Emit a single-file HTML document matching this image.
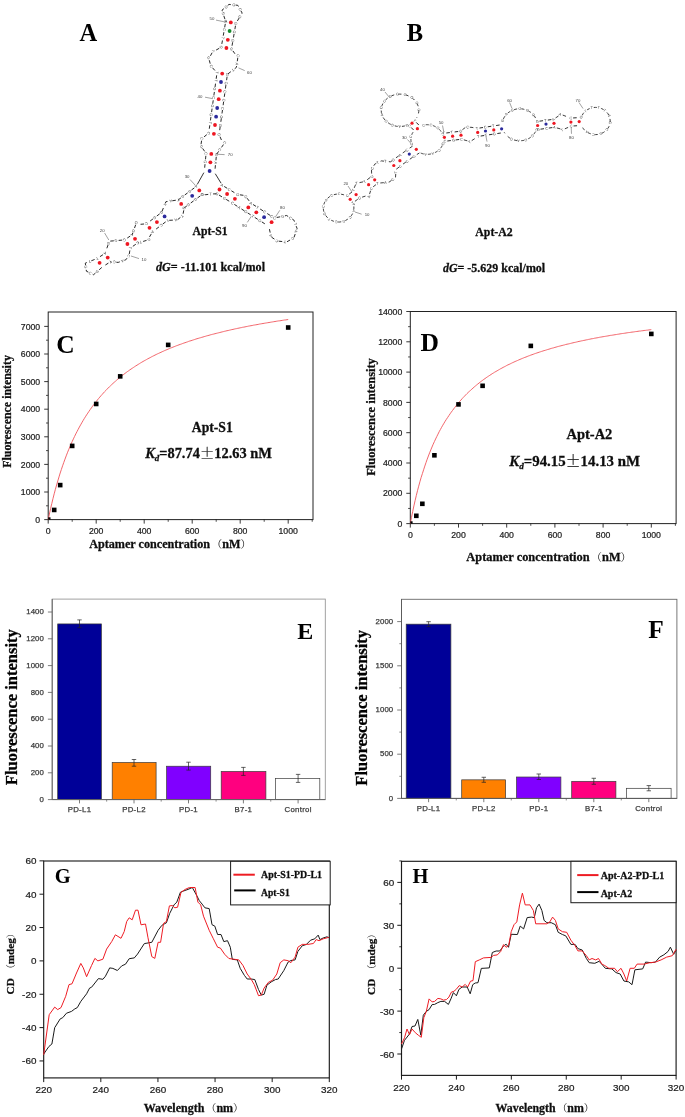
<!DOCTYPE html>
<html><head><meta charset="utf-8"><title>Figure</title>
<style>
html,body{margin:0;padding:0;background:#fff;}
svg{display:block;}
text{white-space:pre;}
text.b{stroke:#111;stroke-width:0.28px;}
</style></head><body>
<svg width="685" height="1117" viewBox="0 0 685 1117">
<defs>
<filter id="soft" x="-5%" y="-5%" width="110%" height="110%"><feGaussianBlur stdDeviation="0.35"/></filter>
<filter id="soft2" x="-5%" y="-5%" width="110%" height="110%"><feGaussianBlur stdDeviation="0.3"/></filter>
</defs>
<rect width="685" height="1117" fill="#ffffff"/>
<g filter="url(#soft)">
<path id="s1" d="M225.7 21.5 L221.3 47.1" fill="none" stroke="#1e1e1e" stroke-width="0.95" stroke-linejoin="round" stroke-dasharray="3.53 4.87" stroke-dashoffset="-2.44"/>
<text font-size="3.9" font-family="Liberation Sans, sans-serif" fill="#444" letter-spacing="5.67" dy="1.40"><textPath href="#s1" startOffset="-1.36">ACTC</textPath></text>
<path id="s2" d="M235.9 23.3 L231.5 48.9" fill="none" stroke="#1e1e1e" stroke-width="0.95" stroke-linejoin="round" stroke-dasharray="3.53 4.87" stroke-dashoffset="-2.44"/>
<text font-size="3.9" font-family="Liberation Sans, sans-serif" fill="#444" letter-spacing="5.67" dy="1.40"><textPath href="#s2" startOffset="-1.36">GGGG</textPath></text>
<path id="s3" d="M225.7 21.5 L222.0 10.2 L229.0 4.4 L237.8 5.3 L242.2 13.1 L235.9 23.3" fill="none" stroke="#1e1e1e" stroke-width="0.95" stroke-linejoin="round" stroke-dasharray="3.53 4.87" stroke-dashoffset="-2.44"/>
<text font-size="3.9" font-family="Liberation Sans, sans-serif" fill="#444" letter-spacing="5.67" dy="1.40"><textPath href="#s3" startOffset="-1.36">AGGGCGG</textPath></text>
<path id="s4" d="M217.0 72.9 L208.7 133.1" fill="none" stroke="#1e1e1e" stroke-width="0.95" stroke-linejoin="round" stroke-dasharray="3.53 4.87" stroke-dashoffset="-2.44"/>
<text font-size="3.9" font-family="Liberation Sans, sans-serif" fill="#444" letter-spacing="5.67" dy="1.40"><textPath href="#s4" startOffset="-1.36">TTGCGGTG</textPath></text>
<path id="s5" d="M227.4 74.3 L219.1 134.5" fill="none" stroke="#1e1e1e" stroke-width="0.95" stroke-linejoin="round" stroke-dasharray="3.53 4.87" stroke-dashoffset="-2.44"/>
<text font-size="3.9" font-family="Liberation Sans, sans-serif" fill="#444" letter-spacing="5.67" dy="1.40"><textPath href="#s5" startOffset="-1.36">GGCCCGGG</textPath></text>
<path id="s6" d="M221.3 47.1 L212.4 52.2 L208.9 58.7 L210.7 65.7 L217.0 72.9" fill="none" stroke="#1e1e1e" stroke-width="0.95" stroke-linejoin="round" stroke-dasharray="3.53 4.87" stroke-dashoffset="-2.44"/>
<text font-size="3.9" font-family="Liberation Sans, sans-serif" fill="#444" letter-spacing="5.67" dy="1.40"><textPath href="#s6" startOffset="-1.36">GTGCG</textPath></text>
<path id="s7" d="M231.5 48.9 L237.8 57.8 L236.4 67.4 L227.4 74.3" fill="none" stroke="#1e1e1e" stroke-width="0.95" stroke-linejoin="round" stroke-dasharray="3.53 4.87" stroke-dashoffset="-2.44"/>
<text font-size="3.9" font-family="Liberation Sans, sans-serif" fill="#444" letter-spacing="5.67" dy="1.40"><textPath href="#s7" startOffset="-1.36">GCAT</textPath></text>
<path id="s8" d="M206.1 153.4 L204.4 170.5" fill="none" stroke="#1e1e1e" stroke-width="0.95" stroke-linejoin="round" stroke-dasharray="3.53 4.87" stroke-dashoffset="-2.44"/>
<text font-size="3.9" font-family="Liberation Sans, sans-serif" fill="#444" letter-spacing="5.67" dy="1.40"><textPath href="#s8" startOffset="-1.36">CGG</textPath></text>
<path id="s9" d="M216.5 154.4 L214.8 171.5" fill="none" stroke="#1e1e1e" stroke-width="0.95" stroke-linejoin="round" stroke-dasharray="3.53 4.87" stroke-dashoffset="-2.44"/>
<text font-size="3.9" font-family="Liberation Sans, sans-serif" fill="#444" letter-spacing="5.67" dy="1.40"><textPath href="#s9" startOffset="-1.36">GAG</textPath></text>
<path id="s10" d="M208.7 133.1 L201.9 138.6 L200.8 145.8 L206.1 153.4" fill="none" stroke="#1e1e1e" stroke-width="0.95" stroke-linejoin="round" stroke-dasharray="3.53 4.87" stroke-dashoffset="-2.44"/>
<text font-size="3.9" font-family="Liberation Sans, sans-serif" fill="#444" letter-spacing="5.67" dy="1.40"><textPath href="#s10" startOffset="-1.36">CCGG</textPath></text>
<path id="s11" d="M219.1 134.5 L223.4 144.7 L216.5 154.4" fill="none" stroke="#1e1e1e" stroke-width="0.95" stroke-linejoin="round" stroke-dasharray="3.53 4.87" stroke-dashoffset="-2.44"/>
<text font-size="3.9" font-family="Liberation Sans, sans-serif" fill="#444" letter-spacing="5.67" dy="1.40"><textPath href="#s11" startOffset="-1.36">GCC</textPath></text>
<path id="s12" d="M196.3 186.4 L178.2 199.9" fill="none" stroke="#1e1e1e" stroke-width="0.95" stroke-linejoin="round" stroke-dasharray="3.53 4.87" stroke-dashoffset="-2.44"/>
<text font-size="3.9" font-family="Liberation Sans, sans-serif" fill="#444" letter-spacing="5.67" dy="1.40"><textPath href="#s12" startOffset="-1.36">AGG</textPath></text>
<path id="s13" d="M202.3 194.4 L184.2 207.9" fill="none" stroke="#1e1e1e" stroke-width="0.95" stroke-linejoin="round" stroke-dasharray="3.53 4.87" stroke-dashoffset="-2.44"/>
<text font-size="3.9" font-family="Liberation Sans, sans-serif" fill="#444" letter-spacing="5.67" dy="1.40"><textPath href="#s13" startOffset="-1.36">CGG</textPath></text>
<line x1="203.83" y1="172.69" x2="197.31" y2="184.39" stroke="#1e1e1e" stroke-width="0.9" />
<path id="s14" d="M161.6 212.4 L146.5 223.8" fill="none" stroke="#1e1e1e" stroke-width="0.95" stroke-linejoin="round" stroke-dasharray="3.53 4.87" stroke-dashoffset="-2.44"/>
<text font-size="3.9" font-family="Liberation Sans, sans-serif" fill="#444" letter-spacing="5.67" dy="1.40"><textPath href="#s14" startOffset="-1.36">GGC</textPath></text>
<path id="s15" d="M167.6 220.4 L152.5 231.8" fill="none" stroke="#1e1e1e" stroke-width="0.95" stroke-linejoin="round" stroke-dasharray="3.53 4.87" stroke-dashoffset="-2.44"/>
<text font-size="3.9" font-family="Liberation Sans, sans-serif" fill="#444" letter-spacing="5.67" dy="1.40"><textPath href="#s15" startOffset="-1.36">TCG</textPath></text>
<path id="s16" d="M178.2 199.9 L165.9 201.7 L161.6 212.4" fill="none" stroke="#1e1e1e" stroke-width="0.95" stroke-linejoin="round" stroke-dasharray="3.53 4.87" stroke-dashoffset="-2.44"/>
<text font-size="3.9" font-family="Liberation Sans, sans-serif" fill="#444" letter-spacing="5.67" dy="1.40"><textPath href="#s16" startOffset="-1.36">TAT</textPath></text>
<path id="s17" d="M184.2 207.9 L182.8 215.5 L177.3 219.9 L167.6 220.4" fill="none" stroke="#1e1e1e" stroke-width="0.95" stroke-linejoin="round" stroke-dasharray="3.53 4.87" stroke-dashoffset="-2.44"/>
<text font-size="3.9" font-family="Liberation Sans, sans-serif" fill="#444" letter-spacing="5.67" dy="1.40"><textPath href="#s17" startOffset="-1.36">GTA</textPath></text>
<path id="s18" d="M132.2 234.7 L124.6 239.9" fill="none" stroke="#1e1e1e" stroke-width="0.95" stroke-linejoin="round" stroke-dasharray="3.53 4.87" stroke-dashoffset="-2.44"/>
<text font-size="3.9" font-family="Liberation Sans, sans-serif" fill="#444" letter-spacing="5.67" dy="1.40"><textPath href="#s18" startOffset="-1.36">AC</textPath></text>
<path id="s19" d="M137.8 242.9 L130.2 248.1" fill="none" stroke="#1e1e1e" stroke-width="0.95" stroke-linejoin="round" stroke-dasharray="3.53 4.87" stroke-dashoffset="-2.44"/>
<text font-size="3.9" font-family="Liberation Sans, sans-serif" fill="#444" letter-spacing="5.67" dy="1.40"><textPath href="#s19" startOffset="-1.36">CC</textPath></text>
<path id="s20" d="M146.5 223.8 L135.7 224.7 L132.2 234.7" fill="none" stroke="#1e1e1e" stroke-width="0.95" stroke-linejoin="round" stroke-dasharray="3.53 4.87" stroke-dashoffset="-2.44"/>
<text font-size="3.9" font-family="Liberation Sans, sans-serif" fill="#444" letter-spacing="5.67" dy="1.40"><textPath href="#s20" startOffset="-1.36">CGG</textPath></text>
<path id="s21" d="M152.5 231.8 L147.7 240.1 L137.8 242.9" fill="none" stroke="#1e1e1e" stroke-width="0.95" stroke-linejoin="round" stroke-dasharray="3.53 4.87" stroke-dashoffset="-2.44"/>
<text font-size="3.9" font-family="Liberation Sans, sans-serif" fill="#444" letter-spacing="5.67" dy="1.40"><textPath href="#s21" startOffset="-1.36">AGT</textPath></text>
<path id="s22" d="M105.0 253.4 L96.9 258.6" fill="none" stroke="#1e1e1e" stroke-width="0.95" stroke-linejoin="round" stroke-dasharray="3.53 4.87" stroke-dashoffset="-2.44"/>
<text font-size="3.9" font-family="Liberation Sans, sans-serif" fill="#444" letter-spacing="5.67" dy="1.40"><textPath href="#s22" startOffset="-1.36">AC</textPath></text>
<path id="s23" d="M110.4 261.8 L102.3 267.0" fill="none" stroke="#1e1e1e" stroke-width="0.95" stroke-linejoin="round" stroke-dasharray="3.53 4.87" stroke-dashoffset="-2.44"/>
<text font-size="3.9" font-family="Liberation Sans, sans-serif" fill="#444" letter-spacing="5.67" dy="1.40"><textPath href="#s23" startOffset="-1.36">TA</textPath></text>
<path id="s24" d="M124.6 239.9 L109.4 241.2 L105.0 253.4" fill="none" stroke="#1e1e1e" stroke-width="0.95" stroke-linejoin="round" stroke-dasharray="3.53 4.87" stroke-dashoffset="-2.44"/>
<text font-size="3.9" font-family="Liberation Sans, sans-serif" fill="#444" letter-spacing="5.67" dy="1.40"><textPath href="#s24" startOffset="-1.36">GGGG</textPath></text>
<path id="s25" d="M130.2 248.1 L129.1 255.4 L125.8 259.8 L118.2 262.4 L110.4 261.8" fill="none" stroke="#1e1e1e" stroke-width="0.95" stroke-linejoin="round" stroke-dasharray="3.53 4.87" stroke-dashoffset="-2.44"/>
<text font-size="3.9" font-family="Liberation Sans, sans-serif" fill="#444" letter-spacing="5.67" dy="1.40"><textPath href="#s25" startOffset="-1.36">TCAC</textPath></text>
<path id="s26" d="M96.9 258.6 L85.3 263.1 L86.4 271.2 L93.6 274.7 L102.3 267.0" fill="none" stroke="#1e1e1e" stroke-width="0.95" stroke-linejoin="round" stroke-dasharray="3.53 4.87" stroke-dashoffset="-2.44"/>
<text font-size="3.9" font-family="Liberation Sans, sans-serif" fill="#444" letter-spacing="5.67" dy="1.40"><textPath href="#s26" startOffset="-1.36">TTGCG</textPath></text>
<path id="s27" d="M216.9 193.8 L232.3 203.1" fill="none" stroke="#1e1e1e" stroke-width="0.95" stroke-linejoin="round" stroke-dasharray="3.53 4.87" stroke-dashoffset="-2.44"/>
<text font-size="3.9" font-family="Liberation Sans, sans-serif" fill="#444" letter-spacing="5.67" dy="1.40"><textPath href="#s27" startOffset="-1.36">GGA</textPath></text>
<path id="s28" d="M222.1 185.2 L237.5 194.5" fill="none" stroke="#1e1e1e" stroke-width="0.95" stroke-linejoin="round" stroke-dasharray="3.53 4.87" stroke-dashoffset="-2.44"/>
<text font-size="3.9" font-family="Liberation Sans, sans-serif" fill="#444" letter-spacing="5.67" dy="1.40"><textPath href="#s28" startOffset="-1.36">ACA</textPath></text>
<line x1="215.27" y1="173.71" x2="221.08" y2="183.22" stroke="#1e1e1e" stroke-width="0.9" />
<path id="s29" d="M202.3 194.4 L205.8 194.7 L211.3 194.0 L216.9 193.8" fill="none" stroke="#1e1e1e" stroke-width="0.95" stroke-linejoin="round" stroke-dasharray="3.53 4.87" stroke-dashoffset="-2.44"/>
<text font-size="3.9" font-family="Liberation Sans, sans-serif" fill="#444" letter-spacing="5.67" dy="1.40"><textPath href="#s29" startOffset="-1.36">GT</textPath></text>
<path id="s30" d="M245.6 211.6 L268.9 226.4" fill="none" stroke="#1e1e1e" stroke-width="0.95" stroke-linejoin="round" stroke-dasharray="3.53 4.87" stroke-dashoffset="-2.44"/>
<text font-size="3.9" font-family="Liberation Sans, sans-serif" fill="#444" letter-spacing="5.67" dy="1.40"><textPath href="#s30" startOffset="-1.36">GTGG</textPath></text>
<path id="s31" d="M251.0 203.2 L274.3 218.0" fill="none" stroke="#1e1e1e" stroke-width="0.95" stroke-linejoin="round" stroke-dasharray="3.53 4.87" stroke-dashoffset="-2.44"/>
<text font-size="3.9" font-family="Liberation Sans, sans-serif" fill="#444" letter-spacing="5.67" dy="1.40"><textPath href="#s31" startOffset="-1.36">ATCC</textPath></text>
<path id="s32" d="M237.5 194.5 L244.9 195.5 L251.0 203.2" fill="none" stroke="#1e1e1e" stroke-width="0.95" stroke-linejoin="round" stroke-dasharray="3.53 4.87" stroke-dashoffset="-2.44"/>
<text font-size="3.9" font-family="Liberation Sans, sans-serif" fill="#444" letter-spacing="5.67" dy="1.40"><textPath href="#s32" startOffset="-1.36">GGC</textPath></text>
<path id="s33" d="M232.3 203.1 L245.6 211.6" fill="none" stroke="#1e1e1e" stroke-width="0.95" stroke-linejoin="round" stroke-dasharray="3.53 4.87" stroke-dashoffset="-2.44"/>
<text font-size="3.9" font-family="Liberation Sans, sans-serif" fill="#444" letter-spacing="5.67" dy="1.40"><textPath href="#s33" startOffset="-1.36">CA</textPath></text>
<path id="s34" d="M274.3 218.0 L286.6 215.5 L293.9 220.1 L297.1 228.5 L293.9 237.8 L286.6 242.0 L277.2 241.0 L271.0 236.8 L268.9 226.4" fill="none" stroke="#1e1e1e" stroke-width="0.95" stroke-linejoin="round" stroke-dasharray="3.53 4.87" stroke-dashoffset="-2.44"/>
<text font-size="3.9" font-family="Liberation Sans, sans-serif" fill="#444" letter-spacing="5.67" dy="1.40"><textPath href="#s34" startOffset="-1.36">CGCTACTCAG</textPath></text>
<circle cx="230.8" cy="22.4" r="1.9" fill="#ee1620"/>
<circle cx="229.6" cy="31.0" r="1.9" fill="#138a2c"/>
<circle cx="227.8" cy="39.8" r="1.9" fill="#ee1620"/>
<circle cx="226.4" cy="48.0" r="1.9" fill="#ee1620"/>
<circle cx="222.2" cy="73.6" r="1.9" fill="#ee1620"/>
<circle cx="221.0" cy="82.0" r="1.9" fill="#2c2a9c"/>
<circle cx="219.9" cy="90.7" r="1.9" fill="#ee1620"/>
<circle cx="218.7" cy="99.2" r="1.9" fill="#ee1620"/>
<circle cx="217.2" cy="108.0" r="1.9" fill="#2c2a9c"/>
<circle cx="216.1" cy="116.7" r="1.9" fill="#2c2a9c"/>
<circle cx="215.0" cy="125.0" r="1.9" fill="#ee1620"/>
<circle cx="213.9" cy="133.8" r="1.9" fill="#ee1620"/>
<circle cx="211.3" cy="153.9" r="1.9" fill="#ee1620"/>
<circle cx="210.4" cy="162.3" r="1.9" fill="#ee1620"/>
<circle cx="209.6" cy="171.0" r="1.9" fill="#2c2a9c"/>
<circle cx="199.3" cy="190.4" r="1.9" fill="#ee1620"/>
<circle cx="192.2" cy="195.8" r="1.9" fill="#2c2a9c"/>
<circle cx="181.2" cy="203.9" r="1.9" fill="#ee1620"/>
<circle cx="164.6" cy="216.4" r="1.9" fill="#2c2a9c"/>
<circle cx="156.9" cy="222.1" r="1.9" fill="#ee1620"/>
<circle cx="149.5" cy="227.8" r="1.9" fill="#ee1620"/>
<circle cx="135.0" cy="238.8" r="1.9" fill="#ee1620"/>
<circle cx="127.4" cy="244.0" r="1.9" fill="#ee1620"/>
<circle cx="107.7" cy="257.6" r="1.9" fill="#ee1620"/>
<circle cx="99.6" cy="262.8" r="1.9" fill="#ee1620"/>
<circle cx="219.5" cy="189.5" r="1.9" fill="#ee1620"/>
<circle cx="227.1" cy="194.0" r="1.9" fill="#ee1620"/>
<circle cx="234.9" cy="198.8" r="1.9" fill="#ee1620"/>
<circle cx="248.3" cy="207.4" r="1.9" fill="#ee1620"/>
<circle cx="256.3" cy="212.3" r="1.9" fill="#ee1620"/>
<circle cx="264.1" cy="217.2" r="1.9" fill="#2c2a9c"/>
<circle cx="271.6" cy="222.2" r="1.9" fill="#ee1620"/>
<text x="212.00" y="20.20" font-size="4.3" text-anchor="middle" font-weight="normal" font-family="Liberation Sans, sans-serif" fill="#3c3c3c"  >50</text>
<line x1="216.00" y1="20.10" x2="224.70" y2="21.90" stroke="#555" stroke-width="0.55" />
<text x="249.50" y="73.70" font-size="4.3" text-anchor="middle" font-weight="normal" font-family="Liberation Sans, sans-serif" fill="#3c3c3c"  >60</text>
<line x1="238.50" y1="67.90" x2="244.70" y2="70.60" stroke="#555" stroke-width="0.55" />
<text x="200.00" y="97.90" font-size="4.3" text-anchor="middle" font-weight="normal" font-family="Liberation Sans, sans-serif" fill="#3c3c3c"  >40</text>
<line x1="205.00" y1="97.20" x2="212.50" y2="98.60" stroke="#555" stroke-width="0.55" />
<text x="230.20" y="156.10" font-size="4.3" text-anchor="middle" font-weight="normal" font-family="Liberation Sans, sans-serif" fill="#3c3c3c"  >70</text>
<line x1="217.50" y1="154.30" x2="224.60" y2="154.60" stroke="#555" stroke-width="0.55" />
<text x="187.10" y="178.10" font-size="4.3" text-anchor="middle" font-weight="normal" font-family="Liberation Sans, sans-serif" fill="#3c3c3c"  >30</text>
<line x1="190.00" y1="179.50" x2="195.60" y2="185.60" stroke="#555" stroke-width="0.55" />
<text x="102.20" y="231.70" font-size="4.3" text-anchor="middle" font-weight="normal" font-family="Liberation Sans, sans-serif" fill="#3c3c3c"  >20</text>
<line x1="104.60" y1="233.00" x2="108.80" y2="240.00" stroke="#555" stroke-width="0.55" />
<text x="144.00" y="261.30" font-size="4.3" text-anchor="middle" font-weight="normal" font-family="Liberation Sans, sans-serif" fill="#3c3c3c"  >10</text>
<line x1="131.00" y1="256.00" x2="139.00" y2="258.60" stroke="#555" stroke-width="0.55" />
<text x="282.50" y="209.10" font-size="4.3" text-anchor="middle" font-weight="normal" font-family="Liberation Sans, sans-serif" fill="#3c3c3c"  >80</text>
<line x1="279.80" y1="210.30" x2="275.40" y2="217.00" stroke="#555" stroke-width="0.55" />
<text x="244.50" y="227.20" font-size="4.3" text-anchor="middle" font-weight="normal" font-family="Liberation Sans, sans-serif" fill="#3c3c3c"  >90</text>
<line x1="251.30" y1="216.30" x2="247.30" y2="222.40" stroke="#555" stroke-width="0.55" />
<path id="s35" d="M353.4 204.4 L353.8 206.2 L353.9 208.1 L353.7 210.0 L353.3 211.9 L352.6 213.6 L351.6 215.3 L350.4 216.9 L349.0 218.2 L347.4 219.4 L345.7 220.4 L343.8 221.2 L341.8 221.7 L339.7 222.0 L337.7 222.0 L335.6 221.7 L333.6 221.2 L331.7 220.5 L329.9 219.5 L328.3 218.4 L326.9 217.0 L325.7 215.5 L324.7 213.8 L323.9 212.0 L323.5 210.2 L323.3 208.3 L323.4 206.4 L323.8 204.6 L324.4 202.8 L325.3 201.1 L326.5 199.5 L327.8 198.1 L329.4 196.8 L331.1 195.8 L333.0 195.0 L335.0 194.4 L337.0 194.1 L339.1 194.0 L341.1 194.2 L343.1 194.6 L345.1 195.3" fill="none" stroke="#1e1e1e" stroke-width="0.85" stroke-linejoin="round" stroke-dasharray="3.07 4.23" stroke-dashoffset="-2.12"/>
<text font-size="3.7" font-family="Liberation Sans, sans-serif" fill="#444" letter-spacing="4.71" dy="1.33"><textPath href="#s35" startOffset="-1.29">TACGGTGCACC</textPath></text>
<path id="s36" d="M347.2 195.6 L352.8 191.4 L356.1 183.3 L364.9 181.5 L371.7 176.3 L371.5 169.7 L374.7 164.2 L381.3 160.9 L390.6 161.8 L397.1 157.0 L406.5 150.3 L413.3 145.6" fill="none" stroke="#1e1e1e" stroke-width="0.85" stroke-linejoin="round" stroke-dasharray="3.53 4.87" stroke-dashoffset="-2.44"/>
<text font-size="3.9" font-family="Liberation Sans, sans-serif" fill="#444" letter-spacing="5.67" dy="1.40"><textPath href="#s36" startOffset="-1.36">CTTTGCTTGAC</textPath></text>
<path id="s37" d="M353.0 202.8 L359.4 198.0 L369.3 194.9 L371.4 188.2 L377.8 183.2 L389.0 182.2 L395.5 177.4 L396.0 169.4 L402.9 164.2 L412.1 157.6 L419.3 153.0" fill="none" stroke="#1e1e1e" stroke-width="0.85" stroke-linejoin="round" stroke-dasharray="3.53 4.87" stroke-dashoffset="-2.44"/>
<text font-size="3.9" font-family="Liberation Sans, sans-serif" fill="#444" letter-spacing="5.67" dy="1.40"><textPath href="#s37" startOffset="-1.36">TGACTACTCCG</textPath></text>
<path id="s38" d="M411.7 144.1 L411.6 143.7 L411.5 143.3 L411.4 143.0 L411.3 142.6 L411.2 142.2 L411.1 141.8 L411.0 141.4 L411.0 141.0 L411.0 140.7 L410.9 140.3 L410.9 139.9 L410.9 139.5 L410.9 139.1 L410.9 138.7 L411.0 138.3 L411.0 138.0 L411.0 137.6 L411.1 137.2 L411.2 136.8 L411.3 136.4 L411.4 136.0 L411.5 135.7 L411.6 135.3 L411.7 134.9 L411.8 134.6 L412.0 134.2 L412.1 133.8 L412.3 133.5 L412.5 133.1 L412.7 132.8 L412.9 132.4 L413.1 132.1 L413.3 131.8 L413.5 131.4 L413.8 131.1 L414.0 130.8 L414.3 130.5 L414.6 130.2 L414.8 129.9 L415.1 129.6" fill="none" stroke="#1e1e1e" stroke-width="0.85" stroke-linejoin="round" stroke-dasharray="3.07 4.23" stroke-dashoffset="-2.12"/>
<text font-size="3.7" font-family="Liberation Sans, sans-serif" fill="#444" letter-spacing="4.71" dy="1.33"><textPath href="#s38" startOffset="-1.29">CCC</textPath></text>
<path id="s39" d="M423.6 125.1 L424.2 125.0 L424.9 124.9 L425.5 124.8 L426.1 124.7 L426.8 124.7 L427.4 124.7 L428.0 124.7 L428.7 124.8 L429.3 124.8 L429.9 124.9 L430.6 125.0 L431.2 125.1 L431.8 125.3 L432.4 125.4 L433.0 125.6 L433.6 125.8 L434.2 126.1 L434.8 126.3 L435.3 126.6 L435.9 126.9 L436.4 127.2 L436.9 127.5 L437.4 127.9 L437.9 128.2 L438.4 128.6 L438.9 129.0 L439.3 129.4 L439.7 129.8 L440.1 130.3 L440.5 130.7 L440.9 131.2 L441.2 131.7 L441.6 132.2 L441.9 132.7 L442.1 133.2 L442.4 133.7 L442.6 134.3 L442.9 134.8 L443.0 135.4 L443.2 135.9" fill="none" stroke="#1e1e1e" stroke-width="0.85" stroke-linejoin="round" stroke-dasharray="3.07 4.23" stroke-dashoffset="-2.12"/>
<text font-size="3.7" font-family="Liberation Sans, sans-serif" fill="#444" letter-spacing="4.71" dy="1.33"><textPath href="#s39" startOffset="-1.29">CCGT</textPath></text>
<path id="s40" d="M443.1 143.6 L442.8 144.3 L442.6 144.9 L442.2 145.6 L441.9 146.2 L441.5 146.9 L441.1 147.5 L440.7 148.1 L440.2 148.7 L439.7 149.2 L439.1 149.7 L438.6 150.2 L438.0 150.7 L437.4 151.2 L436.7 151.6 L436.1 152.0 L435.4 152.4 L434.7 152.7 L434.0 153.0 L433.3 153.3 L432.5 153.5 L431.7 153.7 L431.0 153.9 L430.2 154.1 L429.4 154.2 L428.6 154.3 L427.8 154.3 L427.0 154.3 L426.2 154.3 L425.5 154.2 L424.7 154.1 L423.9 154.0 L423.1 153.8 L422.3 153.6 L421.6 153.4 L420.9 153.1 L420.1 152.8 L419.4 152.5 L418.7 152.1 L418.1 151.7 L417.4 151.3" fill="none" stroke="#1e1e1e" stroke-width="0.85" stroke-linejoin="round" stroke-dasharray="3.07 4.23" stroke-dashoffset="-2.12"/>
<text font-size="3.7" font-family="Liberation Sans, sans-serif" fill="#444" letter-spacing="4.71" dy="1.33"><textPath href="#s40" startOffset="-1.29">GCAAG</textPath></text>
<path id="s41" d="M409.4 125.7 L414.8 131.2" fill="none" stroke="#1e1e1e" stroke-width="0.95" stroke-linejoin="round" stroke-dasharray="3.53 4.87" stroke-dashoffset="-2.44"/>
<text font-size="3.9" font-family="Liberation Sans, sans-serif" fill="#444" letter-spacing="5.67" dy="1.40"><textPath href="#s41" startOffset="-1.36">C</textPath></text>
<path id="s42" d="M414.6 120.7 L420.0 126.2" fill="none" stroke="#1e1e1e" stroke-width="0.95" stroke-linejoin="round" stroke-dasharray="3.53 4.87" stroke-dashoffset="-2.44"/>
<text font-size="3.9" font-family="Liberation Sans, sans-serif" fill="#444" letter-spacing="5.67" dy="1.40"><textPath href="#s42" startOffset="-1.36">T</textPath></text>
<path id="s43" d="M407.0 125.3 L404.5 126.0 L402.0 126.4 L399.3 126.5 L396.7 126.3 L394.2 125.7 L391.8 124.9 L389.5 123.7 L387.4 122.3 L385.6 120.7 L384.1 118.9 L382.8 116.9 L381.9 114.8 L381.4 112.6 L381.2 110.3 L381.4 108.0 L381.9 105.8 L382.8 103.7 L384.1 101.7 L385.6 99.9 L387.4 98.3 L389.5 96.9 L391.8 95.7 L394.2 94.9 L396.7 94.3 L399.3 94.1 L402.0 94.2 L404.5 94.6 L407.0 95.3 L409.4 96.3 L411.6 97.5 L413.5 99.0 L415.2 100.8 L416.6 102.7 L417.7 104.8 L418.4 106.9 L418.8 109.2 L418.8 111.4 L418.4 113.7 L417.7 115.8 L416.6 117.9" fill="none" stroke="#1e1e1e" stroke-width="0.85" stroke-linejoin="round" stroke-dasharray="3.07 4.23" stroke-dashoffset="-2.12"/>
<text font-size="3.7" font-family="Liberation Sans, sans-serif" fill="#444" letter-spacing="4.71" dy="1.33"><textPath href="#s43" startOffset="-1.29">GAGGACCGGCCCGT</textPath></text>
<path id="s44" d="M444.9 141.3 L461.5 139.2" fill="none" stroke="#1e1e1e" stroke-width="0.95" stroke-linejoin="round" stroke-dasharray="3.53 4.87" stroke-dashoffset="-2.44"/>
<text font-size="3.9" font-family="Liberation Sans, sans-serif" fill="#444" letter-spacing="5.67" dy="1.40"><textPath href="#s44" startOffset="-1.36">CG</textPath></text>
<path id="s45" d="M443.9 133.3 L460.5 131.2" fill="none" stroke="#1e1e1e" stroke-width="0.95" stroke-linejoin="round" stroke-dasharray="3.53 4.87" stroke-dashoffset="-2.44"/>
<text font-size="3.9" font-family="Liberation Sans, sans-serif" fill="#444" letter-spacing="5.67" dy="1.40"><textPath href="#s45" startOffset="-1.36">TT</textPath></text>
<path id="s46" d="M478.3 136.4 L502.2 132.8" fill="none" stroke="#1e1e1e" stroke-width="0.95" stroke-linejoin="round" stroke-dasharray="3.53 4.87" stroke-dashoffset="-2.44"/>
<text font-size="3.9" font-family="Liberation Sans, sans-serif" fill="#444" letter-spacing="5.67" dy="1.40"><textPath href="#s46" startOffset="-1.36">TTG</textPath></text>
<path id="s47" d="M477.1 128.4 L501.0 124.8" fill="none" stroke="#1e1e1e" stroke-width="0.95" stroke-linejoin="round" stroke-dasharray="3.53 4.87" stroke-dashoffset="-2.44"/>
<text font-size="3.9" font-family="Liberation Sans, sans-serif" fill="#444" letter-spacing="5.67" dy="1.40"><textPath href="#s47" startOffset="-1.36">TCT</textPath></text>
<path id="s48" d="M460.5 131.2 L466.1 126.9 L472.0 127.4 L477.1 128.4" fill="none" stroke="#1e1e1e" stroke-width="0.85" stroke-linejoin="round" stroke-dasharray="3.53 4.87" stroke-dashoffset="-2.44"/>
<text font-size="3.9" font-family="Liberation Sans, sans-serif" fill="#444" letter-spacing="5.67" dy="1.40"><textPath href="#s48" startOffset="-1.36">GCG</textPath></text>
<path id="s49" d="M461.5 139.2 L470.2 141.6 L478.3 136.4" fill="none" stroke="#1e1e1e" stroke-width="0.85" stroke-linejoin="round" stroke-dasharray="3.53 4.87" stroke-dashoffset="-2.44"/>
<text font-size="3.9" font-family="Liberation Sans, sans-serif" fill="#444" letter-spacing="5.67" dy="1.40"><textPath href="#s49" startOffset="-1.36">CTC</textPath></text>
<path id="s50" d="M502.7 120.9 L503.0 119.9 L503.4 118.9 L503.9 117.9 L504.4 117.0 L505.0 116.1 L505.7 115.2 L506.4 114.4 L507.2 113.6 L508.0 112.9 L508.9 112.2 L509.9 111.6 L510.8 111.0 L511.9 110.5 L512.9 110.1 L514.0 109.7 L515.1 109.4 L516.2 109.1 L517.4 108.9 L518.5 108.8 L519.7 108.8 L520.9 108.8 L522.0 108.9 L523.2 109.1 L524.3 109.4 L525.4 109.7 L526.5 110.1 L527.5 110.5 L528.6 111.0 L529.5 111.6 L530.5 112.2 L531.4 112.9 L532.2 113.6 L533.0 114.4 L533.7 115.2 L534.4 116.1 L535.0 117.0 L535.5 117.9 L536.0 118.9 L536.4 119.9 L536.7 120.9 L536.9 121.4" fill="none" stroke="#1e1e1e" stroke-width="0.85" stroke-linejoin="round" stroke-dasharray="3.07 4.23" stroke-dashoffset="-2.12"/>
<text font-size="3.7" font-family="Liberation Sans, sans-serif" fill="#444" letter-spacing="4.71" dy="1.33"><textPath href="#s50" startOffset="-1.29">GAGGGGG</textPath></text>
<path id="s51" d="M536.3 129.7 L536.0 130.6 L535.6 131.5 L535.1 132.3 L534.6 133.1 L534.1 133.9 L533.5 134.7 L532.8 135.4 L532.1 136.1 L531.4 136.7 L530.6 137.3 L529.8 137.9 L528.9 138.4 L528.0 138.9 L527.1 139.3 L526.2 139.7 L525.2 140.0 L524.2 140.3 L523.2 140.5 L522.2 140.6 L521.2 140.7 L520.2 140.8 L519.2 140.8 L518.2 140.7 L517.1 140.6 L516.1 140.5 L515.1 140.2 L514.2 140.0 L513.2 139.7 L512.3 139.3 L511.3 138.9 L510.5 138.4 L509.6 137.9 L508.8 137.3 L508.0 136.7 L507.3 136.1 L506.6 135.4 L505.9 134.7 L505.3 133.9 L504.8 133.1 L504.2 132.3" fill="none" stroke="#1e1e1e" stroke-width="0.85" stroke-linejoin="round" stroke-dasharray="3.07 4.23" stroke-dashoffset="-2.12"/>
<text font-size="3.7" font-family="Liberation Sans, sans-serif" fill="#444" letter-spacing="4.71" dy="1.33"><textPath href="#s51" startOffset="-1.29">CGGAGG</textPath></text>
<path id="s52" d="M538.1 129.5 L554.5 127.3" fill="none" stroke="#1e1e1e" stroke-width="0.95" stroke-linejoin="round" stroke-dasharray="3.53 4.87" stroke-dashoffset="-2.44"/>
<text font-size="3.9" font-family="Liberation Sans, sans-serif" fill="#444" letter-spacing="5.67" dy="1.40"><textPath href="#s52" startOffset="-1.36">GC</textPath></text>
<path id="s53" d="M537.1 121.5 L553.5 119.3" fill="none" stroke="#1e1e1e" stroke-width="0.95" stroke-linejoin="round" stroke-dasharray="3.53 4.87" stroke-dashoffset="-2.44"/>
<text font-size="3.9" font-family="Liberation Sans, sans-serif" fill="#444" letter-spacing="5.67" dy="1.40"><textPath href="#s53" startOffset="-1.36">GT</textPath></text>
<path id="s54" d="M571.1 126.1 L579.4 125.6" fill="none" stroke="#1e1e1e" stroke-width="0.95" stroke-linejoin="round" stroke-dasharray="3.53 4.87" stroke-dashoffset="-2.44"/>
<text font-size="3.9" font-family="Liberation Sans, sans-serif" fill="#444" letter-spacing="5.67" dy="1.40"><textPath href="#s54" startOffset="-1.36">C</textPath></text>
<path id="s55" d="M570.7 118.1 L579.0 117.6" fill="none" stroke="#1e1e1e" stroke-width="0.95" stroke-linejoin="round" stroke-dasharray="3.53 4.87" stroke-dashoffset="-2.44"/>
<text font-size="3.9" font-family="Liberation Sans, sans-serif" fill="#444" letter-spacing="5.67" dy="1.40"><textPath href="#s55" startOffset="-1.36">C</textPath></text>
<path id="s56" d="M553.5 119.3 L560.9 114.4 L570.7 118.1" fill="none" stroke="#1e1e1e" stroke-width="0.85" stroke-linejoin="round" stroke-dasharray="3.53 4.87" stroke-dashoffset="-2.44"/>
<text font-size="3.9" font-family="Liberation Sans, sans-serif" fill="#444" letter-spacing="5.67" dy="1.40"><textPath href="#s56" startOffset="-1.36">AAG</textPath></text>
<path id="s57" d="M554.5 127.3 L563.1 129.6 L571.1 126.1" fill="none" stroke="#1e1e1e" stroke-width="0.85" stroke-linejoin="round" stroke-dasharray="3.53 4.87" stroke-dashoffset="-2.44"/>
<text font-size="3.9" font-family="Liberation Sans, sans-serif" fill="#444" letter-spacing="5.67" dy="1.40"><textPath href="#s57" startOffset="-1.36">ATG</textPath></text>
<path id="s58" d="M581.4 117.3 L582.1 115.4 L583.1 113.7 L584.3 112.1 L585.8 110.8 L587.5 109.6 L589.3 108.7 L591.3 108.0 L593.4 107.5 L595.4 107.4 L597.5 107.5 L599.6 107.9 L601.6 108.6 L603.4 109.5 L605.1 110.7 L606.6 112.1 L607.9 113.6 L608.9 115.3 L609.6 117.2 L610.0 119.1 L610.2 121.0 L610.0 122.9 L609.6 124.8 L608.9 126.7 L607.9 128.4 L606.6 129.9 L605.1 131.3 L603.4 132.5 L601.6 133.4 L599.6 134.1 L597.5 134.5 L595.4 134.6 L593.4 134.5 L591.3 134.0 L589.3 133.3 L587.5 132.4 L585.8 131.2 L584.3 129.9 L583.1 128.3 L582.1 126.6 L581.4 124.7" fill="none" stroke="#1e1e1e" stroke-width="0.85" stroke-linejoin="round" stroke-dasharray="3.07 4.23" stroke-dashoffset="-2.12"/>
<text font-size="3.7" font-family="Liberation Sans, sans-serif" fill="#444" letter-spacing="4.71" dy="1.33"><textPath href="#s58" startOffset="-1.29">GTTTTAGCGCAC</textPath></text>
<circle cx="350.2" cy="199.3" r="1.6" fill="#ee1620"/>
<circle cx="356.1" cy="194.6" r="1.6" fill="#ee1620"/>
<circle cx="368.6" cy="184.7" r="1.6" fill="#ee1620"/>
<circle cx="374.7" cy="179.8" r="1.6" fill="#ee1620"/>
<circle cx="393.8" cy="165.5" r="1.6" fill="#ee1620"/>
<circle cx="399.9" cy="160.7" r="1.6" fill="#ee1620"/>
<circle cx="409.3" cy="154.1" r="1.6" fill="#2c2a9c"/>
<circle cx="416.3" cy="149.3" r="1.6" fill="#ee1620"/>
<circle cx="412.0" cy="123.2" r="1.6" fill="#ee1620"/>
<circle cx="417.4" cy="128.7" r="1.6" fill="#ee1620"/>
<circle cx="444.4" cy="137.3" r="1.6" fill="#ee1620"/>
<circle cx="452.6" cy="136.2" r="1.6" fill="#ee1620"/>
<circle cx="461.0" cy="135.2" r="1.6" fill="#ee1620"/>
<circle cx="477.7" cy="132.4" r="1.6" fill="#ee1620"/>
<circle cx="485.5" cy="131.0" r="1.6" fill="#2c2a9c"/>
<circle cx="493.8" cy="129.9" r="1.6" fill="#ee1620"/>
<circle cx="501.6" cy="128.8" r="1.6" fill="#2c2a9c"/>
<circle cx="537.6" cy="125.5" r="1.6" fill="#ee1620"/>
<circle cx="546.0" cy="124.1" r="1.6" fill="#2c2a9c"/>
<circle cx="554.0" cy="123.3" r="1.6" fill="#ee1620"/>
<circle cx="570.9" cy="122.1" r="1.6" fill="#ee1620"/>
<circle cx="579.2" cy="121.6" r="1.6" fill="#ee1620"/>
<text x="382.40" y="91.20" font-size="4.3" text-anchor="middle" font-weight="normal" font-family="Liberation Sans, sans-serif" fill="#3c3c3c"  >40</text>
<line x1="385.00" y1="92.00" x2="389.50" y2="97.50" stroke="#555" stroke-width="0.55" />
<text x="404.30" y="139.40" font-size="4.3" text-anchor="middle" font-weight="normal" font-family="Liberation Sans, sans-serif" fill="#3c3c3c"  >30</text>
<line x1="407.50" y1="139.50" x2="411.00" y2="143.50" stroke="#555" stroke-width="0.55" />
<text x="441.10" y="124.10" font-size="4.3" text-anchor="middle" font-weight="normal" font-family="Liberation Sans, sans-serif" fill="#3c3c3c"  >50</text>
<line x1="442.50" y1="125.50" x2="443.80" y2="132.00" stroke="#555" stroke-width="0.55" />
<text x="345.80" y="184.80" font-size="4.3" text-anchor="middle" font-weight="normal" font-family="Liberation Sans, sans-serif" fill="#3c3c3c"  >20</text>
<line x1="348.00" y1="186.00" x2="352.00" y2="192.00" stroke="#555" stroke-width="0.55" />
<text x="367.10" y="216.10" font-size="4.3" text-anchor="middle" font-weight="normal" font-family="Liberation Sans, sans-serif" fill="#3c3c3c"  >10</text>
<line x1="355.00" y1="212.00" x2="361.60" y2="214.20" stroke="#555" stroke-width="0.55" />
<text x="509.60" y="101.50" font-size="4.3" text-anchor="middle" font-weight="normal" font-family="Liberation Sans, sans-serif" fill="#3c3c3c"  >60</text>
<line x1="509.60" y1="102.50" x2="512.00" y2="108.50" stroke="#555" stroke-width="0.55" />
<text x="577.90" y="101.50" font-size="4.3" text-anchor="middle" font-weight="normal" font-family="Liberation Sans, sans-serif" fill="#3c3c3c"  >70</text>
<line x1="579.00" y1="102.50" x2="583.00" y2="108.50" stroke="#555" stroke-width="0.55" />
<text x="571.50" y="138.90" font-size="4.3" text-anchor="middle" font-weight="normal" font-family="Liberation Sans, sans-serif" fill="#3c3c3c"  >80</text>
<line x1="571.20" y1="127.00" x2="571.50" y2="133.80" stroke="#555" stroke-width="0.55" />
<text x="487.40" y="146.70" font-size="4.3" text-anchor="middle" font-weight="normal" font-family="Liberation Sans, sans-serif" fill="#3c3c3c"  >90</text>
<line x1="485.80" y1="135.50" x2="487.00" y2="141.60" stroke="#555" stroke-width="0.55" />
</g>
<g filter="url(#soft2)">
<text x="79.60" y="41.20" font-size="24.5" text-anchor="start" font-weight="bold" font-family="Liberation Serif, Noto Serif CJK SC, serif" fill="#000"  >A</text>
<text x="406.70" y="40.60" font-size="24.5" text-anchor="start" font-weight="bold" font-family="Liberation Serif, Noto Serif CJK SC, serif" fill="#000"  >B</text>
<text x="210.00" y="235.10" font-size="11.7" text-anchor="middle" font-weight="bold" font-family="Liberation Serif, Noto Serif CJK SC, serif" fill="#111" class="b" textLength="35" lengthAdjust="spacingAndGlyphs">Apt-S1</text>
<text x="494.00" y="235.60" font-size="11.8" text-anchor="middle" font-weight="bold" font-family="Liberation Serif, Noto Serif CJK SC, serif" fill="#111" class="b" textLength="37.4" lengthAdjust="spacingAndGlyphs">Apt-A2</text>
<text x="156" y="271.3" font-size="12" font-weight="bold" class="b" font-family="Liberation Serif, Noto Serif CJK SC, serif" fill="#111" textLength="109" lengthAdjust="spacingAndGlyphs"><tspan font-style="italic">dG</tspan>= -11.101 kcal/mol</text>
<text x="442.9" y="272" font-size="12" font-weight="bold" class="b" font-family="Liberation Serif, Noto Serif CJK SC, serif" fill="#111" textLength="102.3" lengthAdjust="spacingAndGlyphs"><tspan font-style="italic">dG</tspan>= -5.629 kcal/mol</text>
</g>
<g filter="url(#soft2)">
<rect x="48.20" y="312.00" width="264.80" height="207.60" fill="none" stroke="#222" stroke-width="1" />
<line x1="44.20" y1="519.60" x2="48.20" y2="519.60" stroke="#222" stroke-width="0.9" />
<text x="40.20" y="522.70" font-size="8.7" text-anchor="end" font-weight="normal" font-family="Liberation Sans, sans-serif" fill="#222"  stroke="#222" stroke-width="0.22">0</text>
<line x1="44.20" y1="492.00" x2="48.20" y2="492.00" stroke="#222" stroke-width="0.9" />
<text x="40.20" y="495.10" font-size="8.7" text-anchor="end" font-weight="normal" font-family="Liberation Sans, sans-serif" fill="#222"  stroke="#222" stroke-width="0.22">1000</text>
<line x1="44.20" y1="464.40" x2="48.20" y2="464.40" stroke="#222" stroke-width="0.9" />
<text x="40.20" y="467.50" font-size="8.7" text-anchor="end" font-weight="normal" font-family="Liberation Sans, sans-serif" fill="#222"  stroke="#222" stroke-width="0.22">2000</text>
<line x1="44.20" y1="436.80" x2="48.20" y2="436.80" stroke="#222" stroke-width="0.9" />
<text x="40.20" y="439.90" font-size="8.7" text-anchor="end" font-weight="normal" font-family="Liberation Sans, sans-serif" fill="#222"  stroke="#222" stroke-width="0.22">3000</text>
<line x1="44.20" y1="409.20" x2="48.20" y2="409.20" stroke="#222" stroke-width="0.9" />
<text x="40.20" y="412.30" font-size="8.7" text-anchor="end" font-weight="normal" font-family="Liberation Sans, sans-serif" fill="#222"  stroke="#222" stroke-width="0.22">4000</text>
<line x1="44.20" y1="381.60" x2="48.20" y2="381.60" stroke="#222" stroke-width="0.9" />
<text x="40.20" y="384.70" font-size="8.7" text-anchor="end" font-weight="normal" font-family="Liberation Sans, sans-serif" fill="#222"  stroke="#222" stroke-width="0.22">5000</text>
<line x1="44.20" y1="354.00" x2="48.20" y2="354.00" stroke="#222" stroke-width="0.9" />
<text x="40.20" y="357.10" font-size="8.7" text-anchor="end" font-weight="normal" font-family="Liberation Sans, sans-serif" fill="#222"  stroke="#222" stroke-width="0.22">6000</text>
<line x1="44.20" y1="326.40" x2="48.20" y2="326.40" stroke="#222" stroke-width="0.9" />
<text x="40.20" y="329.50" font-size="8.7" text-anchor="end" font-weight="normal" font-family="Liberation Sans, sans-serif" fill="#222"  stroke="#222" stroke-width="0.22">7000</text>
<line x1="46.00" y1="505.80" x2="48.20" y2="505.80" stroke="#222" stroke-width="0.8" />
<line x1="46.00" y1="478.20" x2="48.20" y2="478.20" stroke="#222" stroke-width="0.8" />
<line x1="46.00" y1="450.60" x2="48.20" y2="450.60" stroke="#222" stroke-width="0.8" />
<line x1="46.00" y1="423.00" x2="48.20" y2="423.00" stroke="#222" stroke-width="0.8" />
<line x1="46.00" y1="395.40" x2="48.20" y2="395.40" stroke="#222" stroke-width="0.8" />
<line x1="46.00" y1="367.80" x2="48.20" y2="367.80" stroke="#222" stroke-width="0.8" />
<line x1="46.00" y1="340.20" x2="48.20" y2="340.20" stroke="#222" stroke-width="0.8" />
<line x1="48.20" y1="519.60" x2="48.20" y2="523.60" stroke="#222" stroke-width="0.9" />
<text x="48.20" y="533.50" font-size="8.7" text-anchor="middle" font-weight="normal" font-family="Liberation Sans, sans-serif" fill="#222"  stroke="#222" stroke-width="0.22">0</text>
<line x1="96.20" y1="519.60" x2="96.20" y2="523.60" stroke="#222" stroke-width="0.9" />
<text x="96.20" y="533.50" font-size="8.7" text-anchor="middle" font-weight="normal" font-family="Liberation Sans, sans-serif" fill="#222"  stroke="#222" stroke-width="0.22">200</text>
<line x1="144.20" y1="519.60" x2="144.20" y2="523.60" stroke="#222" stroke-width="0.9" />
<text x="144.20" y="533.50" font-size="8.7" text-anchor="middle" font-weight="normal" font-family="Liberation Sans, sans-serif" fill="#222"  stroke="#222" stroke-width="0.22">400</text>
<line x1="192.20" y1="519.60" x2="192.20" y2="523.60" stroke="#222" stroke-width="0.9" />
<text x="192.20" y="533.50" font-size="8.7" text-anchor="middle" font-weight="normal" font-family="Liberation Sans, sans-serif" fill="#222"  stroke="#222" stroke-width="0.22">600</text>
<line x1="240.20" y1="519.60" x2="240.20" y2="523.60" stroke="#222" stroke-width="0.9" />
<text x="240.20" y="533.50" font-size="8.7" text-anchor="middle" font-weight="normal" font-family="Liberation Sans, sans-serif" fill="#222"  stroke="#222" stroke-width="0.22">800</text>
<line x1="288.20" y1="519.60" x2="288.20" y2="523.60" stroke="#222" stroke-width="0.9" />
<text x="288.20" y="533.50" font-size="8.7" text-anchor="middle" font-weight="normal" font-family="Liberation Sans, sans-serif" fill="#222"  stroke="#222" stroke-width="0.22">1000</text>
<line x1="72.20" y1="519.60" x2="72.20" y2="521.80" stroke="#222" stroke-width="0.8" />
<line x1="120.20" y1="519.60" x2="120.20" y2="521.80" stroke="#222" stroke-width="0.8" />
<line x1="168.20" y1="519.60" x2="168.20" y2="521.80" stroke="#222" stroke-width="0.8" />
<line x1="216.20" y1="519.60" x2="216.20" y2="521.80" stroke="#222" stroke-width="0.8" />
<line x1="264.20" y1="519.60" x2="264.20" y2="521.80" stroke="#222" stroke-width="0.8" />
<line x1="312.20" y1="519.60" x2="312.20" y2="521.80" stroke="#222" stroke-width="0.8" />
<polyline points="48.2,519.6 49.4,514.0 50.6,508.6 51.8,503.5 53.0,498.5 54.2,493.8 55.4,489.3 56.6,485.0 57.8,480.9 59.0,476.9 60.2,473.0 61.4,469.4 62.6,465.8 63.8,462.4 65.0,459.1 66.2,455.9 67.4,452.8 68.6,449.8 69.8,447.0 71.0,444.2 72.2,441.5 73.4,438.9 74.6,436.4 75.8,433.9 77.0,431.6 78.2,429.3 79.4,427.0 80.6,424.9 81.8,422.8 83.0,420.7 84.2,418.7 85.4,416.8 86.6,414.9 87.8,413.1 89.0,411.3 90.2,409.6 91.4,407.9 92.6,406.2 93.8,404.6 95.0,403.0 96.2,401.5 97.4,400.0 98.6,398.5 99.8,397.1 101.0,395.7 102.2,394.4 103.4,393.0 104.6,391.7 105.8,390.5 107.0,389.2 108.2,388.0 109.4,386.8 110.6,385.7 111.8,384.5 113.0,383.4 114.2,382.3 115.4,381.3 116.6,380.2 117.8,379.2 119.0,378.2 120.2,377.2 121.4,376.2 122.6,375.3 123.8,374.3 125.0,373.4 126.2,372.5 127.4,371.6 128.6,370.8 129.8,369.9 131.0,369.1 132.2,368.3 133.4,367.5 134.6,366.7 135.8,365.9 137.0,365.2 138.2,364.4 139.4,363.7 140.6,362.9 141.8,362.2 143.0,361.5 144.2,360.8 145.4,360.2 146.6,359.5 147.8,358.8 149.0,358.2 150.2,357.6 151.4,356.9 152.6,356.3 153.8,355.7 155.0,355.1 156.2,354.5 157.4,353.9 158.6,353.4 159.8,352.8 161.0,352.3 162.2,351.7 163.4,351.2 164.6,350.6 165.8,350.1 167.0,349.6 168.2,349.1 169.4,348.6 170.6,348.1 171.8,347.6 173.0,347.1 174.2,346.7 175.4,346.2 176.6,345.7 177.8,345.3 179.0,344.8 180.2,344.4 181.4,344.0 182.6,343.5 183.8,343.1 185.0,342.7 186.2,342.3 187.4,341.9 188.6,341.4 189.8,341.0 191.0,340.7 192.2,340.3 193.4,339.9 194.6,339.5 195.8,339.1 197.0,338.7 198.2,338.4 199.4,338.0 200.6,337.7 201.8,337.3 203.0,337.0 204.2,336.6 205.4,336.3 206.6,335.9 207.8,335.6 209.0,335.3 210.2,334.9 211.4,334.6 212.6,334.3 213.8,334.0 215.0,333.7 216.2,333.4 217.4,333.1 218.6,332.8 219.8,332.5 221.0,332.2 222.2,331.9 223.4,331.6 224.6,331.3 225.8,331.0 227.0,330.7 228.2,330.5 229.4,330.2 230.6,329.9 231.8,329.6 233.0,329.4 234.2,329.1 235.4,328.8 236.6,328.6 237.8,328.3 239.0,328.1 240.2,327.8 241.4,327.6 242.6,327.3 243.8,327.1 245.0,326.9 246.2,326.6 247.4,326.4 248.6,326.1 249.8,325.9 251.0,325.7 252.2,325.5 253.4,325.2 254.6,325.0 255.8,324.8 257.0,324.6 258.2,324.4 259.4,324.1 260.6,323.9 261.8,323.7 263.0,323.5 264.2,323.3 265.4,323.1 266.6,322.9 267.8,322.7 269.0,322.5 270.2,322.3 271.4,322.1 272.6,321.9 273.8,321.7 275.0,321.5 276.2,321.3 277.4,321.1 278.6,320.9 279.8,320.8 281.0,320.6 282.2,320.4 283.4,320.2 284.6,320.0 285.8,319.9 287.0,319.7 288.2,319.5" fill="none" stroke="#f0545a" stroke-width="0.9" stroke-linejoin="round" />
<rect x="48.20" y="517.30" width="2.30" height="2.30" fill="#000" stroke="none" stroke-width="0" />
<rect x="51.90" y="507.64" width="4.60" height="4.60" fill="#000" stroke="none" stroke-width="0" />
<rect x="57.90" y="482.80" width="4.60" height="4.60" fill="#000" stroke="none" stroke-width="0" />
<rect x="69.90" y="443.61" width="4.60" height="4.60" fill="#000" stroke="none" stroke-width="0" />
<rect x="93.90" y="401.66" width="4.60" height="4.60" fill="#000" stroke="none" stroke-width="0" />
<rect x="117.90" y="374.06" width="4.60" height="4.60" fill="#000" stroke="none" stroke-width="0" />
<rect x="165.90" y="342.59" width="4.60" height="4.60" fill="#000" stroke="none" stroke-width="0" />
<rect x="285.90" y="325.20" width="4.60" height="4.60" fill="#000" stroke="none" stroke-width="0" />
<rect x="410.30" y="311.50" width="265.80" height="212.10" fill="none" stroke="#222" stroke-width="1" />
<line x1="406.30" y1="523.60" x2="410.30" y2="523.60" stroke="#222" stroke-width="0.9" />
<text x="402.30" y="526.70" font-size="8.7" text-anchor="end" font-weight="normal" font-family="Liberation Sans, sans-serif" fill="#222"  stroke="#222" stroke-width="0.22">0</text>
<line x1="406.30" y1="493.30" x2="410.30" y2="493.30" stroke="#222" stroke-width="0.9" />
<text x="402.30" y="496.40" font-size="8.7" text-anchor="end" font-weight="normal" font-family="Liberation Sans, sans-serif" fill="#222"  stroke="#222" stroke-width="0.22">2000</text>
<line x1="406.30" y1="463.00" x2="410.30" y2="463.00" stroke="#222" stroke-width="0.9" />
<text x="402.30" y="466.10" font-size="8.7" text-anchor="end" font-weight="normal" font-family="Liberation Sans, sans-serif" fill="#222"  stroke="#222" stroke-width="0.22">4000</text>
<line x1="406.30" y1="432.70" x2="410.30" y2="432.70" stroke="#222" stroke-width="0.9" />
<text x="402.30" y="435.80" font-size="8.7" text-anchor="end" font-weight="normal" font-family="Liberation Sans, sans-serif" fill="#222"  stroke="#222" stroke-width="0.22">6000</text>
<line x1="406.30" y1="402.40" x2="410.30" y2="402.40" stroke="#222" stroke-width="0.9" />
<text x="402.30" y="405.50" font-size="8.7" text-anchor="end" font-weight="normal" font-family="Liberation Sans, sans-serif" fill="#222"  stroke="#222" stroke-width="0.22">8000</text>
<line x1="406.30" y1="372.10" x2="410.30" y2="372.10" stroke="#222" stroke-width="0.9" />
<text x="402.30" y="375.20" font-size="8.7" text-anchor="end" font-weight="normal" font-family="Liberation Sans, sans-serif" fill="#222"  stroke="#222" stroke-width="0.22">10000</text>
<line x1="406.30" y1="341.80" x2="410.30" y2="341.80" stroke="#222" stroke-width="0.9" />
<text x="402.30" y="344.90" font-size="8.7" text-anchor="end" font-weight="normal" font-family="Liberation Sans, sans-serif" fill="#222"  stroke="#222" stroke-width="0.22">12000</text>
<line x1="406.30" y1="311.50" x2="410.30" y2="311.50" stroke="#222" stroke-width="0.9" />
<text x="402.30" y="314.60" font-size="8.7" text-anchor="end" font-weight="normal" font-family="Liberation Sans, sans-serif" fill="#222"  stroke="#222" stroke-width="0.22">14000</text>
<line x1="408.10" y1="508.45" x2="410.30" y2="508.45" stroke="#222" stroke-width="0.8" />
<line x1="408.10" y1="478.15" x2="410.30" y2="478.15" stroke="#222" stroke-width="0.8" />
<line x1="408.10" y1="447.85" x2="410.30" y2="447.85" stroke="#222" stroke-width="0.8" />
<line x1="408.10" y1="417.55" x2="410.30" y2="417.55" stroke="#222" stroke-width="0.8" />
<line x1="408.10" y1="387.25" x2="410.30" y2="387.25" stroke="#222" stroke-width="0.8" />
<line x1="408.10" y1="356.95" x2="410.30" y2="356.95" stroke="#222" stroke-width="0.8" />
<line x1="408.10" y1="326.65" x2="410.30" y2="326.65" stroke="#222" stroke-width="0.8" />
<line x1="410.30" y1="523.60" x2="410.30" y2="527.60" stroke="#222" stroke-width="0.9" />
<text x="410.30" y="537.50" font-size="8.7" text-anchor="middle" font-weight="normal" font-family="Liberation Sans, sans-serif" fill="#222"  stroke="#222" stroke-width="0.22">0</text>
<line x1="458.50" y1="523.60" x2="458.50" y2="527.60" stroke="#222" stroke-width="0.9" />
<text x="458.50" y="537.50" font-size="8.7" text-anchor="middle" font-weight="normal" font-family="Liberation Sans, sans-serif" fill="#222"  stroke="#222" stroke-width="0.22">200</text>
<line x1="506.70" y1="523.60" x2="506.70" y2="527.60" stroke="#222" stroke-width="0.9" />
<text x="506.70" y="537.50" font-size="8.7" text-anchor="middle" font-weight="normal" font-family="Liberation Sans, sans-serif" fill="#222"  stroke="#222" stroke-width="0.22">400</text>
<line x1="554.90" y1="523.60" x2="554.90" y2="527.60" stroke="#222" stroke-width="0.9" />
<text x="554.90" y="537.50" font-size="8.7" text-anchor="middle" font-weight="normal" font-family="Liberation Sans, sans-serif" fill="#222"  stroke="#222" stroke-width="0.22">600</text>
<line x1="603.10" y1="523.60" x2="603.10" y2="527.60" stroke="#222" stroke-width="0.9" />
<text x="603.10" y="537.50" font-size="8.7" text-anchor="middle" font-weight="normal" font-family="Liberation Sans, sans-serif" fill="#222"  stroke="#222" stroke-width="0.22">800</text>
<line x1="651.30" y1="523.60" x2="651.30" y2="527.60" stroke="#222" stroke-width="0.9" />
<text x="651.30" y="537.50" font-size="8.7" text-anchor="middle" font-weight="normal" font-family="Liberation Sans, sans-serif" fill="#222"  stroke="#222" stroke-width="0.22">1000</text>
<line x1="434.40" y1="523.60" x2="434.40" y2="525.80" stroke="#222" stroke-width="0.8" />
<line x1="482.60" y1="523.60" x2="482.60" y2="525.80" stroke="#222" stroke-width="0.8" />
<line x1="530.80" y1="523.60" x2="530.80" y2="525.80" stroke="#222" stroke-width="0.8" />
<line x1="579.00" y1="523.60" x2="579.00" y2="525.80" stroke="#222" stroke-width="0.8" />
<line x1="627.20" y1="523.60" x2="627.20" y2="525.80" stroke="#222" stroke-width="0.8" />
<line x1="675.40" y1="523.60" x2="675.40" y2="525.80" stroke="#222" stroke-width="0.8" />
<polyline points="410.3,523.6 411.5,517.4 412.7,511.5 413.9,505.9 415.1,500.6 416.3,495.5 417.5,490.7 418.7,486.2 419.9,481.8 421.1,477.6 422.4,473.6 423.6,469.8 424.8,466.1 426.0,462.6 427.2,459.2 428.4,456.0 429.6,452.9 430.8,449.9 432.0,447.0 433.2,444.2 434.4,441.6 435.6,439.0 436.8,436.5 438.0,434.1 439.2,431.7 440.4,429.5 441.6,427.3 442.8,425.2 444.0,423.2 445.2,421.2 446.4,419.3 447.7,417.4 448.9,415.6 450.1,413.8 451.3,412.1 452.5,410.5 453.7,408.9 454.9,407.3 456.1,405.8 457.3,404.3 458.5,402.8 459.7,401.4 460.9,400.1 462.1,398.7 463.3,397.4 464.5,396.2 465.7,394.9 466.9,393.7 468.1,392.5 469.3,391.4 470.6,390.3 471.8,389.2 473.0,388.1 474.2,387.0 475.4,386.0 476.6,385.0 477.8,384.0 479.0,383.1 480.2,382.1 481.4,381.2 482.6,380.3 483.8,379.4 485.0,378.6 486.2,377.7 487.4,376.9 488.6,376.1 489.8,375.3 491.0,374.5 492.2,373.7 493.4,373.0 494.6,372.2 495.9,371.5 497.1,370.8 498.3,370.1 499.5,369.4 500.7,368.7 501.9,368.1 503.1,367.4 504.3,366.8 505.5,366.2 506.7,365.5 507.9,364.9 509.1,364.4 510.3,363.8 511.5,363.2 512.7,362.6 513.9,362.1 515.1,361.5 516.3,361.0 517.5,360.5 518.8,359.9 520.0,359.4 521.2,358.9 522.4,358.4 523.6,357.9 524.8,357.4 526.0,357.0 527.2,356.5 528.4,356.0 529.6,355.6 530.8,355.1 532.0,354.7 533.2,354.3 534.4,353.8 535.6,353.4 536.8,353.0 538.0,352.6 539.2,352.2 540.4,351.8 541.6,351.4 542.9,351.0 544.1,350.6 545.3,350.3 546.5,349.9 547.7,349.5 548.9,349.2 550.1,348.8 551.3,348.4 552.5,348.1 553.7,347.8 554.9,347.4 556.1,347.1 557.3,346.7 558.5,346.4 559.7,346.1 560.9,345.8 562.1,345.5 563.3,345.2 564.5,344.9 565.7,344.5 567.0,344.2 568.2,344.0 569.4,343.7 570.6,343.4 571.8,343.1 573.0,342.8 574.2,342.5 575.4,342.3 576.6,342.0 577.8,341.7 579.0,341.4 580.2,341.2 581.4,340.9 582.6,340.7 583.8,340.4 585.0,340.2 586.2,339.9 587.4,339.7 588.6,339.4 589.8,339.2 591.0,338.9 592.3,338.7 593.5,338.5 594.7,338.2 595.9,338.0 597.1,337.8 598.3,337.6 599.5,337.3 600.7,337.1 601.9,336.9 603.1,336.7 604.3,336.5 605.5,336.3 606.7,336.1 607.9,335.9 609.1,335.7 610.3,335.4 611.5,335.3 612.7,335.1 613.9,334.9 615.1,334.7 616.4,334.5 617.6,334.3 618.8,334.1 620.0,333.9 621.2,333.7 622.4,333.5 623.6,333.4 624.8,333.2 626.0,333.0 627.2,332.8 628.4,332.6 629.6,332.5 630.8,332.3 632.0,332.1 633.2,332.0 634.4,331.8 635.6,331.6 636.8,331.5 638.0,331.3 639.2,331.1 640.5,331.0 641.7,330.8 642.9,330.7 644.1,330.5 645.3,330.4 646.5,330.2 647.7,330.1 648.9,329.9 650.1,329.8 651.3,329.6" fill="none" stroke="#f0545a" stroke-width="0.9" stroke-linejoin="round" />
<rect x="410.30" y="521.30" width="2.30" height="2.30" fill="#000" stroke="none" stroke-width="0" />
<rect x="414.02" y="513.50" width="4.60" height="4.60" fill="#000" stroke="none" stroke-width="0" />
<rect x="420.05" y="501.50" width="4.60" height="4.60" fill="#000" stroke="none" stroke-width="0" />
<rect x="432.10" y="453.00" width="4.60" height="4.60" fill="#000" stroke="none" stroke-width="0" />
<rect x="456.20" y="402.10" width="4.60" height="4.60" fill="#000" stroke="none" stroke-width="0" />
<rect x="480.30" y="383.51" width="4.60" height="4.60" fill="#000" stroke="none" stroke-width="0" />
<rect x="528.50" y="343.59" width="4.60" height="4.60" fill="#000" stroke="none" stroke-width="0" />
<rect x="649.00" y="331.62" width="4.60" height="4.60" fill="#000" stroke="none" stroke-width="0" />
<text x="56.20" y="352.90" font-size="25.5" text-anchor="start" font-weight="bold" font-family="Liberation Serif, Noto Serif CJK SC, serif" fill="#000"  >C</text>
<text x="212.30" y="431.80" font-size="13.7" text-anchor="middle" font-weight="bold" font-family="Liberation Serif, Noto Serif CJK SC, serif" fill="#111" class="b" textLength="41" lengthAdjust="spacingAndGlyphs">Apt-S1</text>
<text x="145.20" y="457.80" font-size="14" font-weight="bold" class="b" font-family="Liberation Serif, Noto Serif CJK SC, serif" fill="#111" textLength="126.7" lengthAdjust="spacingAndGlyphs"><tspan font-style="italic">K</tspan><tspan font-style="italic" font-size="8.7" dy="3.1">d</tspan><tspan dy="-3.1">=87.74</tspan><tspan font-family="Noto Serif CJK SC, serif" font-weight="normal" stroke="#111" stroke-width="0.2">±</tspan><tspan>12.63 nM</tspan></text>
<text transform="translate(10.60,411.50) rotate(-90)" font-size="12" text-anchor="middle" font-weight="bold" class="b" font-family="Liberation Serif, Noto Serif CJK SC, serif" fill="#111" textLength="112.7" lengthAdjust="spacingAndGlyphs">Fluorescence intensity</text>
<text x="89.20" y="548.30" font-size="12.15" font-weight="bold" class="b" font-family="Liberation Serif, Noto Serif CJK SC, serif" fill="#111">Aptamer concentration<tspan font-family="Noto Serif CJK SC, serif" font-weight="normal" font-size="10.45" stroke="none" dx="1.70">（</tspan>nM<tspan font-family="Noto Serif CJK SC, serif" font-weight="normal" font-size="10.45" stroke="none">）</tspan></text>
<text x="420.60" y="351.10" font-size="25.5" text-anchor="start" font-weight="bold" font-family="Liberation Serif, Noto Serif CJK SC, serif" fill="#000"  >D</text>
<text x="589.40" y="438.80" font-size="14.3" text-anchor="middle" font-weight="bold" font-family="Liberation Serif, Noto Serif CJK SC, serif" fill="#111" class="b" textLength="46" lengthAdjust="spacingAndGlyphs">Apt-A2</text>
<text x="509.30" y="465.70" font-size="14.4" font-weight="bold" class="b" font-family="Liberation Serif, Noto Serif CJK SC, serif" fill="#111" textLength="130.7" lengthAdjust="spacingAndGlyphs"><tspan font-style="italic">K</tspan><tspan font-style="italic" font-size="8.9" dy="3.2">d</tspan><tspan dy="-3.2">=94.15</tspan><tspan font-family="Noto Serif CJK SC, serif" font-weight="normal" stroke="#111" stroke-width="0.2">±</tspan><tspan>14.13 nM</tspan></text>
<text transform="translate(375.20,417.00) rotate(-90)" font-size="12.4" text-anchor="middle" font-weight="bold" class="b" font-family="Liberation Serif, Noto Serif CJK SC, serif" fill="#111" textLength="117.7" lengthAdjust="spacingAndGlyphs">Fluorescence intensity</text>
<text x="466.30" y="561.00" font-size="12.4" font-weight="bold" class="b" font-family="Liberation Serif, Noto Serif CJK SC, serif" fill="#111">Aptamer concentration<tspan font-family="Noto Serif CJK SC, serif" font-weight="normal" font-size="10.66" stroke="none" dx="1.74">（</tspan>nM<tspan font-family="Noto Serif CJK SC, serif" font-weight="normal" font-size="10.66" stroke="none">）</tspan></text>
</g>
<g filter="url(#soft2)">
<rect x="57.70" y="623.93" width="43.70" height="175.67" fill="#000098" stroke="#3a3a3a" stroke-width="0.7" />
<line x1="79.50" y1="619.90" x2="79.50" y2="627.70" stroke="#222" stroke-width="0.7" />
<line x1="77.30" y1="619.90" x2="81.70" y2="619.90" stroke="#222" stroke-width="0.7" />
<line x1="77.30" y1="627.70" x2="81.70" y2="627.70" stroke="#222" stroke-width="0.7" />
<rect x="112.20" y="762.48" width="43.90" height="37.12" fill="#ff8000" stroke="#3a3a3a" stroke-width="0.7" />
<line x1="134.00" y1="759.50" x2="134.00" y2="766.20" stroke="#222" stroke-width="0.7" />
<line x1="131.80" y1="759.50" x2="136.20" y2="759.50" stroke="#222" stroke-width="0.7" />
<line x1="131.80" y1="766.20" x2="136.20" y2="766.20" stroke="#222" stroke-width="0.7" />
<rect x="166.60" y="766.23" width="44.10" height="33.37" fill="#8000ff" stroke="#3a3a3a" stroke-width="0.7" />
<line x1="188.50" y1="762.20" x2="188.50" y2="770.10" stroke="#222" stroke-width="0.7" />
<line x1="186.30" y1="762.20" x2="190.70" y2="762.20" stroke="#222" stroke-width="0.7" />
<line x1="186.30" y1="770.10" x2="190.70" y2="770.10" stroke="#222" stroke-width="0.7" />
<rect x="221.20" y="771.46" width="44.70" height="28.14" fill="#ff007f" stroke="#3a3a3a" stroke-width="0.7" />
<line x1="243.40" y1="767.40" x2="243.40" y2="775.40" stroke="#222" stroke-width="0.7" />
<line x1="241.20" y1="767.40" x2="245.60" y2="767.40" stroke="#222" stroke-width="0.7" />
<line x1="241.20" y1="775.40" x2="245.60" y2="775.40" stroke="#222" stroke-width="0.7" />
<rect x="275.60" y="778.43" width="44.20" height="21.17" fill="#ffffff" stroke="#3a3a3a" stroke-width="0.7" />
<line x1="298.10" y1="774.40" x2="298.10" y2="782.40" stroke="#222" stroke-width="0.7" />
<line x1="295.90" y1="774.40" x2="300.30" y2="774.40" stroke="#222" stroke-width="0.7" />
<line x1="295.90" y1="782.40" x2="300.30" y2="782.40" stroke="#222" stroke-width="0.7" />
<rect x="52.20" y="599.10" width="273.10" height="200.50" fill="none" stroke="#979797" stroke-width="0.9" />
<line x1="52.20" y1="599.10" x2="52.20" y2="799.60" stroke="#5a5a5a" stroke-width="0.9" />
<line x1="52.20" y1="799.60" x2="325.30" y2="799.60" stroke="#5a5a5a" stroke-width="0.9" />
<line x1="47.90" y1="799.60" x2="52.20" y2="799.60" stroke="#5a5a5a" stroke-width="0.8" />
<text x="44.00" y="801.70" font-size="7.8" text-anchor="end" font-weight="normal" font-family="Liberation Sans, sans-serif" fill="#3a3a3a"  letter-spacing="0.1" stroke="#3a3a3a" stroke-width="0.25">0</text>
<line x1="47.90" y1="772.80" x2="52.20" y2="772.80" stroke="#5a5a5a" stroke-width="0.8" />
<text x="44.00" y="774.90" font-size="7.8" text-anchor="end" font-weight="normal" font-family="Liberation Sans, sans-serif" fill="#3a3a3a"  letter-spacing="0.1" stroke="#3a3a3a" stroke-width="0.25">200</text>
<line x1="47.90" y1="746.00" x2="52.20" y2="746.00" stroke="#5a5a5a" stroke-width="0.8" />
<text x="44.00" y="748.10" font-size="7.8" text-anchor="end" font-weight="normal" font-family="Liberation Sans, sans-serif" fill="#3a3a3a"  letter-spacing="0.1" stroke="#3a3a3a" stroke-width="0.25">400</text>
<line x1="47.90" y1="719.20" x2="52.20" y2="719.20" stroke="#5a5a5a" stroke-width="0.8" />
<text x="44.00" y="721.30" font-size="7.8" text-anchor="end" font-weight="normal" font-family="Liberation Sans, sans-serif" fill="#3a3a3a"  letter-spacing="0.1" stroke="#3a3a3a" stroke-width="0.25">600</text>
<line x1="47.90" y1="692.40" x2="52.20" y2="692.40" stroke="#5a5a5a" stroke-width="0.8" />
<text x="44.00" y="694.50" font-size="7.8" text-anchor="end" font-weight="normal" font-family="Liberation Sans, sans-serif" fill="#3a3a3a"  letter-spacing="0.1" stroke="#3a3a3a" stroke-width="0.25">800</text>
<line x1="47.90" y1="665.60" x2="52.20" y2="665.60" stroke="#5a5a5a" stroke-width="0.8" />
<text x="44.00" y="667.70" font-size="7.8" text-anchor="end" font-weight="normal" font-family="Liberation Sans, sans-serif" fill="#3a3a3a"  letter-spacing="0.1" stroke="#3a3a3a" stroke-width="0.25">1000</text>
<line x1="47.90" y1="638.80" x2="52.20" y2="638.80" stroke="#5a5a5a" stroke-width="0.8" />
<text x="44.00" y="640.90" font-size="7.8" text-anchor="end" font-weight="normal" font-family="Liberation Sans, sans-serif" fill="#3a3a3a"  letter-spacing="0.1" stroke="#3a3a3a" stroke-width="0.25">1200</text>
<line x1="47.90" y1="612.00" x2="52.20" y2="612.00" stroke="#5a5a5a" stroke-width="0.8" />
<text x="44.00" y="614.10" font-size="7.8" text-anchor="end" font-weight="normal" font-family="Liberation Sans, sans-serif" fill="#3a3a3a"  letter-spacing="0.1" stroke="#3a3a3a" stroke-width="0.25">1400</text>
<line x1="79.50" y1="799.60" x2="79.50" y2="803.40" stroke="#5a5a5a" stroke-width="0.8" />
<text x="79.50" y="812.40" font-size="7.8" text-anchor="middle" font-weight="normal" font-family="Liberation Sans, sans-serif" fill="#3a3a3a"  letter-spacing="0.3" stroke="#3a3a3a" stroke-width="0.25">PD-L1</text>
<line x1="134.00" y1="799.60" x2="134.00" y2="803.40" stroke="#5a5a5a" stroke-width="0.8" />
<text x="134.00" y="812.40" font-size="7.8" text-anchor="middle" font-weight="normal" font-family="Liberation Sans, sans-serif" fill="#3a3a3a"  letter-spacing="0.3" stroke="#3a3a3a" stroke-width="0.25">PD-L2</text>
<line x1="106.67" y1="799.60" x2="106.67" y2="801.60" stroke="#5a5a5a" stroke-width="0.7" />
<line x1="188.50" y1="799.60" x2="188.50" y2="803.40" stroke="#5a5a5a" stroke-width="0.8" />
<text x="188.50" y="812.40" font-size="7.8" text-anchor="middle" font-weight="normal" font-family="Liberation Sans, sans-serif" fill="#3a3a3a"  letter-spacing="0.3" stroke="#3a3a3a" stroke-width="0.25">PD-1</text>
<line x1="161.18" y1="799.60" x2="161.18" y2="801.60" stroke="#5a5a5a" stroke-width="0.7" />
<line x1="243.40" y1="799.60" x2="243.40" y2="803.40" stroke="#5a5a5a" stroke-width="0.8" />
<text x="243.40" y="812.40" font-size="7.8" text-anchor="middle" font-weight="normal" font-family="Liberation Sans, sans-serif" fill="#3a3a3a"  letter-spacing="0.3" stroke="#3a3a3a" stroke-width="0.25">B7-1</text>
<line x1="216.07" y1="799.60" x2="216.07" y2="801.60" stroke="#5a5a5a" stroke-width="0.7" />
<line x1="298.10" y1="799.60" x2="298.10" y2="803.40" stroke="#5a5a5a" stroke-width="0.8" />
<text x="298.10" y="812.40" font-size="7.8" text-anchor="middle" font-weight="normal" font-family="Liberation Sans, sans-serif" fill="#3a3a3a"  letter-spacing="0.3" stroke="#3a3a3a" stroke-width="0.25">Control</text>
<line x1="270.78" y1="799.60" x2="270.78" y2="801.60" stroke="#5a5a5a" stroke-width="0.7" />
<rect x="406.20" y="624.16" width="44.70" height="174.24" fill="#000098" stroke="#3a3a3a" stroke-width="0.7" />
<line x1="428.60" y1="621.70" x2="428.60" y2="626.70" stroke="#222" stroke-width="0.7" />
<line x1="426.40" y1="621.70" x2="430.80" y2="621.70" stroke="#222" stroke-width="0.7" />
<line x1="426.40" y1="626.70" x2="430.80" y2="626.70" stroke="#222" stroke-width="0.7" />
<rect x="461.70" y="779.84" width="43.90" height="18.56" fill="#ff8000" stroke="#3a3a3a" stroke-width="0.7" />
<line x1="483.80" y1="777.30" x2="483.80" y2="782.30" stroke="#222" stroke-width="0.7" />
<line x1="481.60" y1="777.30" x2="486.00" y2="777.30" stroke="#222" stroke-width="0.7" />
<line x1="481.60" y1="782.30" x2="486.00" y2="782.30" stroke="#222" stroke-width="0.7" />
<rect x="516.50" y="777.01" width="44.40" height="21.39" fill="#8000ff" stroke="#3a3a3a" stroke-width="0.7" />
<line x1="538.80" y1="774.00" x2="538.80" y2="779.50" stroke="#222" stroke-width="0.7" />
<line x1="536.60" y1="774.00" x2="541.00" y2="774.00" stroke="#222" stroke-width="0.7" />
<line x1="536.60" y1="779.50" x2="541.00" y2="779.50" stroke="#222" stroke-width="0.7" />
<rect x="571.70" y="781.34" width="44.20" height="17.06" fill="#ff007f" stroke="#3a3a3a" stroke-width="0.7" />
<line x1="593.80" y1="778.30" x2="593.80" y2="784.30" stroke="#222" stroke-width="0.7" />
<line x1="591.60" y1="778.30" x2="596.00" y2="778.30" stroke="#222" stroke-width="0.7" />
<line x1="591.60" y1="784.30" x2="596.00" y2="784.30" stroke="#222" stroke-width="0.7" />
<rect x="626.40" y="788.32" width="44.70" height="10.08" fill="#ffffff" stroke="#3a3a3a" stroke-width="0.7" />
<line x1="648.80" y1="785.60" x2="648.80" y2="790.80" stroke="#222" stroke-width="0.7" />
<line x1="646.60" y1="785.60" x2="651.00" y2="785.60" stroke="#222" stroke-width="0.7" />
<line x1="646.60" y1="790.80" x2="651.00" y2="790.80" stroke="#222" stroke-width="0.7" />
<rect x="401.50" y="599.30" width="275.40" height="199.10" fill="none" stroke="#686868" stroke-width="0.9" />
<line x1="401.50" y1="599.30" x2="401.50" y2="798.40" stroke="#5a5a5a" stroke-width="0.9" />
<line x1="401.50" y1="798.40" x2="676.90" y2="798.40" stroke="#5a5a5a" stroke-width="0.9" />
<line x1="397.20" y1="798.40" x2="401.50" y2="798.40" stroke="#5a5a5a" stroke-width="0.8" />
<text x="393.30" y="800.50" font-size="7.8" text-anchor="end" font-weight="normal" font-family="Liberation Sans, sans-serif" fill="#3a3a3a"  letter-spacing="0.1" stroke="#3a3a3a" stroke-width="0.25">0</text>
<line x1="397.20" y1="754.20" x2="401.50" y2="754.20" stroke="#5a5a5a" stroke-width="0.8" />
<text x="393.30" y="756.30" font-size="7.8" text-anchor="end" font-weight="normal" font-family="Liberation Sans, sans-serif" fill="#3a3a3a"  letter-spacing="0.1" stroke="#3a3a3a" stroke-width="0.25">500</text>
<line x1="397.20" y1="710.00" x2="401.50" y2="710.00" stroke="#5a5a5a" stroke-width="0.8" />
<text x="393.30" y="712.10" font-size="7.8" text-anchor="end" font-weight="normal" font-family="Liberation Sans, sans-serif" fill="#3a3a3a"  letter-spacing="0.1" stroke="#3a3a3a" stroke-width="0.25">1000</text>
<line x1="397.20" y1="665.80" x2="401.50" y2="665.80" stroke="#5a5a5a" stroke-width="0.8" />
<text x="393.30" y="667.90" font-size="7.8" text-anchor="end" font-weight="normal" font-family="Liberation Sans, sans-serif" fill="#3a3a3a"  letter-spacing="0.1" stroke="#3a3a3a" stroke-width="0.25">1500</text>
<line x1="397.20" y1="621.60" x2="401.50" y2="621.60" stroke="#5a5a5a" stroke-width="0.8" />
<text x="393.30" y="623.70" font-size="7.8" text-anchor="end" font-weight="normal" font-family="Liberation Sans, sans-serif" fill="#3a3a3a"  letter-spacing="0.1" stroke="#3a3a3a" stroke-width="0.25">2000</text>
<line x1="399.30" y1="776.30" x2="401.50" y2="776.30" stroke="#5a5a5a" stroke-width="0.7" />
<line x1="399.30" y1="732.10" x2="401.50" y2="732.10" stroke="#5a5a5a" stroke-width="0.7" />
<line x1="399.30" y1="687.90" x2="401.50" y2="687.90" stroke="#5a5a5a" stroke-width="0.7" />
<line x1="399.30" y1="643.70" x2="401.50" y2="643.70" stroke="#5a5a5a" stroke-width="0.7" />
<line x1="428.60" y1="798.40" x2="428.60" y2="802.20" stroke="#5a5a5a" stroke-width="0.8" />
<text x="428.60" y="811.20" font-size="7.8" text-anchor="middle" font-weight="normal" font-family="Liberation Sans, sans-serif" fill="#3a3a3a"  letter-spacing="0.3" stroke="#3a3a3a" stroke-width="0.25">PD-L1</text>
<line x1="483.80" y1="798.40" x2="483.80" y2="802.20" stroke="#5a5a5a" stroke-width="0.8" />
<text x="483.80" y="811.20" font-size="7.8" text-anchor="middle" font-weight="normal" font-family="Liberation Sans, sans-serif" fill="#3a3a3a"  letter-spacing="0.3" stroke="#3a3a3a" stroke-width="0.25">PD-L2</text>
<line x1="456.28" y1="798.40" x2="456.28" y2="800.40" stroke="#5a5a5a" stroke-width="0.7" />
<line x1="538.80" y1="798.40" x2="538.80" y2="802.20" stroke="#5a5a5a" stroke-width="0.8" />
<text x="538.80" y="811.20" font-size="7.8" text-anchor="middle" font-weight="normal" font-family="Liberation Sans, sans-serif" fill="#3a3a3a"  letter-spacing="0.3" stroke="#3a3a3a" stroke-width="0.25">PD-1</text>
<line x1="511.27" y1="798.40" x2="511.27" y2="800.40" stroke="#5a5a5a" stroke-width="0.7" />
<line x1="593.80" y1="798.40" x2="593.80" y2="802.20" stroke="#5a5a5a" stroke-width="0.8" />
<text x="593.80" y="811.20" font-size="7.8" text-anchor="middle" font-weight="normal" font-family="Liberation Sans, sans-serif" fill="#3a3a3a"  letter-spacing="0.3" stroke="#3a3a3a" stroke-width="0.25">B7-1</text>
<line x1="566.27" y1="798.40" x2="566.27" y2="800.40" stroke="#5a5a5a" stroke-width="0.7" />
<line x1="648.80" y1="798.40" x2="648.80" y2="802.20" stroke="#5a5a5a" stroke-width="0.8" />
<text x="648.80" y="811.20" font-size="7.8" text-anchor="middle" font-weight="normal" font-family="Liberation Sans, sans-serif" fill="#3a3a3a"  letter-spacing="0.3" stroke="#3a3a3a" stroke-width="0.25">Control</text>
<line x1="621.27" y1="798.40" x2="621.27" y2="800.40" stroke="#5a5a5a" stroke-width="0.7" />
<text x="297.20" y="638.60" font-size="24" text-anchor="start" font-weight="bold" font-family="Liberation Serif, Noto Serif CJK SC, serif" fill="#000"  >E</text>
<text x="648.20" y="638.20" font-size="25.4" text-anchor="start" font-weight="bold" font-family="Liberation Serif, Noto Serif CJK SC, serif" fill="#000"  >F</text>
<text transform="translate(16.60,707.20) rotate(-90)" font-size="16.5" text-anchor="middle" font-weight="bold" class="b" font-family="Liberation Serif, Noto Serif CJK SC, serif" fill="#000" textLength="156.0" lengthAdjust="spacingAndGlyphs">Fluorescence intensity</text>
<text transform="translate(367.20,707.80) rotate(-90)" font-size="16.5" text-anchor="middle" font-weight="bold" class="b" font-family="Liberation Serif, Noto Serif CJK SC, serif" fill="#000" textLength="155.7" lengthAdjust="spacingAndGlyphs">Fluorescence intensity</text>
</g>
<g filter="url(#soft2)">
<rect x="43.70" y="861.00" width="285.60" height="216.90" fill="none" stroke="#1a1a1a" stroke-width="1.15" />
<line x1="39.50" y1="860.85" x2="43.70" y2="860.85" stroke="#1a1a1a" stroke-width="1.0" />
<text x="36.40" y="864.35" font-size="9.9" text-anchor="end" font-weight="normal" font-family="Liberation Sans, sans-serif" fill="#1a1a1a"  stroke="#222" stroke-width="0.22">60</text>
<line x1="39.50" y1="894.20" x2="43.70" y2="894.20" stroke="#1a1a1a" stroke-width="1.0" />
<text x="36.40" y="897.70" font-size="9.9" text-anchor="end" font-weight="normal" font-family="Liberation Sans, sans-serif" fill="#1a1a1a"  stroke="#222" stroke-width="0.22">40</text>
<line x1="39.50" y1="927.55" x2="43.70" y2="927.55" stroke="#1a1a1a" stroke-width="1.0" />
<text x="36.40" y="931.05" font-size="9.9" text-anchor="end" font-weight="normal" font-family="Liberation Sans, sans-serif" fill="#1a1a1a"  stroke="#222" stroke-width="0.22">20</text>
<line x1="39.50" y1="960.90" x2="43.70" y2="960.90" stroke="#1a1a1a" stroke-width="1.0" />
<text x="36.40" y="964.40" font-size="9.9" text-anchor="end" font-weight="normal" font-family="Liberation Sans, sans-serif" fill="#1a1a1a"  stroke="#222" stroke-width="0.22">0</text>
<line x1="39.50" y1="994.25" x2="43.70" y2="994.25" stroke="#1a1a1a" stroke-width="1.0" />
<text x="36.40" y="997.75" font-size="9.9" text-anchor="end" font-weight="normal" font-family="Liberation Sans, sans-serif" fill="#1a1a1a"  stroke="#222" stroke-width="0.22">-20</text>
<line x1="39.50" y1="1027.60" x2="43.70" y2="1027.60" stroke="#1a1a1a" stroke-width="1.0" />
<text x="36.40" y="1031.10" font-size="9.9" text-anchor="end" font-weight="normal" font-family="Liberation Sans, sans-serif" fill="#1a1a1a"  stroke="#222" stroke-width="0.22">-40</text>
<line x1="39.50" y1="1060.95" x2="43.70" y2="1060.95" stroke="#1a1a1a" stroke-width="1.0" />
<text x="36.40" y="1064.45" font-size="9.9" text-anchor="end" font-weight="normal" font-family="Liberation Sans, sans-serif" fill="#1a1a1a"  stroke="#222" stroke-width="0.22">-60</text>
<line x1="43.70" y1="1077.90" x2="43.70" y2="1082.10" stroke="#1a1a1a" stroke-width="1.0" />
<text x="43.70" y="1093.20" font-size="9.9" text-anchor="middle" font-weight="normal" font-family="Liberation Sans, sans-serif" fill="#1a1a1a"  stroke="#222" stroke-width="0.22">220</text>
<line x1="100.82" y1="1077.90" x2="100.82" y2="1082.10" stroke="#1a1a1a" stroke-width="1.0" />
<text x="100.82" y="1093.20" font-size="9.9" text-anchor="middle" font-weight="normal" font-family="Liberation Sans, sans-serif" fill="#1a1a1a"  stroke="#222" stroke-width="0.22">240</text>
<line x1="157.94" y1="1077.90" x2="157.94" y2="1082.10" stroke="#1a1a1a" stroke-width="1.0" />
<text x="157.94" y="1093.20" font-size="9.9" text-anchor="middle" font-weight="normal" font-family="Liberation Sans, sans-serif" fill="#1a1a1a"  stroke="#222" stroke-width="0.22">260</text>
<line x1="215.06" y1="1077.90" x2="215.06" y2="1082.10" stroke="#1a1a1a" stroke-width="1.0" />
<text x="215.06" y="1093.20" font-size="9.9" text-anchor="middle" font-weight="normal" font-family="Liberation Sans, sans-serif" fill="#1a1a1a"  stroke="#222" stroke-width="0.22">280</text>
<line x1="272.18" y1="1077.90" x2="272.18" y2="1082.10" stroke="#1a1a1a" stroke-width="1.0" />
<text x="272.18" y="1093.20" font-size="9.9" text-anchor="middle" font-weight="normal" font-family="Liberation Sans, sans-serif" fill="#1a1a1a"  stroke="#222" stroke-width="0.22">300</text>
<line x1="329.30" y1="1077.90" x2="329.30" y2="1082.10" stroke="#1a1a1a" stroke-width="1.0" />
<text x="329.30" y="1093.20" font-size="9.9" text-anchor="middle" font-weight="normal" font-family="Liberation Sans, sans-serif" fill="#1a1a1a"  stroke="#222" stroke-width="0.22">320</text>
<polyline points="43.7,1054.0 48.9,1046.5 51.9,1044.0 54.7,1027.7 60.2,1018.9 62.7,1017.7 66.5,1013.2 71.5,1011.4 74.8,1008.9 77.3,1007.6 80.8,1001.4 86.6,993.8 89.6,988.1 91.6,987.2 98.4,978.6 102.9,979.3 105.4,976.3 109.7,967.9 112.9,968.4 117.4,970.5 121.7,965.9 125.5,964.2 129.2,958.7 134.3,957.9 137.5,954.1 144.3,943.6 151.8,942.3 158.1,930.3 161.9,925.3 166.4,922.8 169.7,913.4 174.0,904.9 176.8,902.1 180.4,892.3 183.8,890.9 188.0,889.4 192.3,887.5 196.5,895.1 199.3,900.7 202.1,904.1 204.9,907.8 209.2,908.6 212.0,924.7 214.8,926.1 217.6,934.5 221.0,934.5 223.8,941.6 227.5,940.7 230.3,947.2 232.3,959.3 237.3,959.9 240.2,968.3 244.4,975.4 247.2,979.0 251.4,979.0 254.8,979.6 258.5,989.5 261.3,995.1 264.1,994.3 266.9,985.2 271.2,981.9 275.4,979.6 278.2,979.0 283.8,970.6 288.1,962.1 290.9,960.5 295.1,959.9 297.9,951.4 302.2,945.8 306.4,944.4 310.6,940.2 314.8,938.8 318.2,935.1 319.9,939.6 323.3,937.9 327.0,936.8 329.3,937.9" fill="none" stroke="#1a1a1a" stroke-width="1.0" stroke-linejoin="round" />
<polyline points="43.7,1054.8 49.2,1014.7 54.7,1007.1 57.7,1009.6 61.0,1007.6 65.7,996.3 69.0,984.6 72.0,983.8 76.5,973.0 80.8,963.4 83.3,967.9 86.6,976.7 91.6,965.4 94.9,958.4 97.9,960.9 102.9,959.2 106.6,949.1 111.7,941.6 115.4,934.8 121.0,938.3 124.2,931.6 126.7,921.5 129.2,917.8 132.2,919.8 135.5,910.2 138.0,910.2 141.0,924.8 145.5,924.0 148.0,937.8 151.8,956.6 154.8,958.4 158.1,942.3 160.6,942.3 163.6,923.3 166.4,921.5 169.4,905.9 172.5,905.5 174.8,907.8 177.6,907.2 181.0,892.3 185.2,889.4 189.4,887.5 195.1,887.5 197.9,902.1 200.7,904.9 203.5,916.2 209.2,930.3 213.4,938.8 217.6,947.2 220.4,948.1 224.7,954.3 228.9,958.5 234.5,959.3 238.8,959.9 243.0,965.5 247.2,974.0 251.4,979.6 254.3,984.7 258.5,995.7 261.3,995.1 264.1,988.1 268.3,982.4 272.6,980.2 276.8,974.0 280.2,962.7 283.8,959.9 288.1,960.7 290.9,962.7 295.1,957.1 297.9,947.2 302.2,944.4 307.8,944.4 313.4,943.5 316.2,939.6 319.1,940.7 323.3,938.8 328.9,937.3" fill="none" stroke="#ee1c24" stroke-width="1.0" stroke-linejoin="round" />
<rect x="230.60" y="861.30" width="99.60" height="43.60" fill="#fff" stroke="#1a1a1a" stroke-width="1.0" />
<line x1="233.40" y1="874.70" x2="254.80" y2="874.70" stroke="#ee1c24" stroke-width="2.0" />
<line x1="234.20" y1="890.40" x2="255.60" y2="890.40" stroke="#000" stroke-width="2.0" />
<text x="261.00" y="878.30" font-size="9.8" text-anchor="start" font-weight="bold" font-family="Liberation Serif, Noto Serif CJK SC, serif" fill="#111" class="b" textLength="61" lengthAdjust="spacingAndGlyphs">Apt-S1-PD-L1</text>
<text x="261.00" y="896.10" font-size="9.8" text-anchor="start" font-weight="bold" font-family="Liberation Serif, Noto Serif CJK SC, serif" fill="#111" class="b" textLength="28.7" lengthAdjust="spacingAndGlyphs">Apt-S1</text>
<text x="54.80" y="882.60" font-size="20.5" text-anchor="start" font-weight="bold" font-family="Liberation Serif, Noto Serif CJK SC, serif" fill="#000"  >G</text>
<text transform="translate(14.40,994.40) rotate(-90)" font-size="11.2" font-weight="bold" class="b" font-family="Liberation Serif, Noto Serif CJK SC, serif" fill="#111">CD <tspan font-family="Noto Serif CJK SC, serif" font-weight="normal" font-size="9.63" stroke="none" dx="1.57">（</tspan>mdeg<tspan font-family="Noto Serif CJK SC, serif" font-weight="normal" font-size="9.63" stroke="none">）</tspan></text>
<text x="143.70" y="1112.40" font-size="12.0" font-weight="bold" class="b" font-family="Liberation Serif, Noto Serif CJK SC, serif" fill="#111">Wavelength<tspan font-family="Noto Serif CJK SC, serif" font-weight="normal" font-size="10.32" stroke="none" dx="1.68">（</tspan>nm<tspan font-family="Noto Serif CJK SC, serif" font-weight="normal" font-size="10.32" stroke="none">）</tspan></text>
<rect x="401.50" y="861.30" width="274.60" height="214.10" fill="none" stroke="#1a1a1a" stroke-width="1.15" />
<line x1="397.30" y1="882.40" x2="401.50" y2="882.40" stroke="#1a1a1a" stroke-width="1.0" />
<text x="394.20" y="885.90" font-size="9.9" text-anchor="end" font-weight="normal" font-family="Liberation Sans, sans-serif" fill="#1a1a1a"  stroke="#222" stroke-width="0.22">60</text>
<line x1="397.30" y1="925.30" x2="401.50" y2="925.30" stroke="#1a1a1a" stroke-width="1.0" />
<text x="394.20" y="928.80" font-size="9.9" text-anchor="end" font-weight="normal" font-family="Liberation Sans, sans-serif" fill="#1a1a1a"  stroke="#222" stroke-width="0.22">30</text>
<line x1="397.30" y1="968.20" x2="401.50" y2="968.20" stroke="#1a1a1a" stroke-width="1.0" />
<text x="394.20" y="971.70" font-size="9.9" text-anchor="end" font-weight="normal" font-family="Liberation Sans, sans-serif" fill="#1a1a1a"  stroke="#222" stroke-width="0.22">0</text>
<line x1="397.30" y1="1011.10" x2="401.50" y2="1011.10" stroke="#1a1a1a" stroke-width="1.0" />
<text x="394.20" y="1014.60" font-size="9.9" text-anchor="end" font-weight="normal" font-family="Liberation Sans, sans-serif" fill="#1a1a1a"  stroke="#222" stroke-width="0.22">-30</text>
<line x1="397.30" y1="1054.00" x2="401.50" y2="1054.00" stroke="#1a1a1a" stroke-width="1.0" />
<text x="394.20" y="1057.50" font-size="9.9" text-anchor="end" font-weight="normal" font-family="Liberation Sans, sans-serif" fill="#1a1a1a"  stroke="#222" stroke-width="0.22">-60</text>
<line x1="399.30" y1="860.95" x2="401.50" y2="860.95" stroke="#1a1a1a" stroke-width="0.9" />
<line x1="399.30" y1="903.85" x2="401.50" y2="903.85" stroke="#1a1a1a" stroke-width="0.9" />
<line x1="399.30" y1="946.75" x2="401.50" y2="946.75" stroke="#1a1a1a" stroke-width="0.9" />
<line x1="399.30" y1="989.65" x2="401.50" y2="989.65" stroke="#1a1a1a" stroke-width="0.9" />
<line x1="399.30" y1="1032.55" x2="401.50" y2="1032.55" stroke="#1a1a1a" stroke-width="0.9" />
<line x1="401.50" y1="1075.40" x2="401.50" y2="1079.60" stroke="#1a1a1a" stroke-width="1.0" />
<text x="401.50" y="1090.70" font-size="9.9" text-anchor="middle" font-weight="normal" font-family="Liberation Sans, sans-serif" fill="#1a1a1a"  stroke="#222" stroke-width="0.22">220</text>
<line x1="456.42" y1="1075.40" x2="456.42" y2="1079.60" stroke="#1a1a1a" stroke-width="1.0" />
<text x="456.42" y="1090.70" font-size="9.9" text-anchor="middle" font-weight="normal" font-family="Liberation Sans, sans-serif" fill="#1a1a1a"  stroke="#222" stroke-width="0.22">240</text>
<line x1="511.34" y1="1075.40" x2="511.34" y2="1079.60" stroke="#1a1a1a" stroke-width="1.0" />
<text x="511.34" y="1090.70" font-size="9.9" text-anchor="middle" font-weight="normal" font-family="Liberation Sans, sans-serif" fill="#1a1a1a"  stroke="#222" stroke-width="0.22">260</text>
<line x1="566.26" y1="1075.40" x2="566.26" y2="1079.60" stroke="#1a1a1a" stroke-width="1.0" />
<text x="566.26" y="1090.70" font-size="9.9" text-anchor="middle" font-weight="normal" font-family="Liberation Sans, sans-serif" fill="#1a1a1a"  stroke="#222" stroke-width="0.22">280</text>
<line x1="621.18" y1="1075.40" x2="621.18" y2="1079.60" stroke="#1a1a1a" stroke-width="1.0" />
<text x="621.18" y="1090.70" font-size="9.9" text-anchor="middle" font-weight="normal" font-family="Liberation Sans, sans-serif" fill="#1a1a1a"  stroke="#222" stroke-width="0.22">300</text>
<line x1="676.10" y1="1075.40" x2="676.10" y2="1079.60" stroke="#1a1a1a" stroke-width="1.0" />
<text x="676.10" y="1090.70" font-size="9.9" text-anchor="middle" font-weight="normal" font-family="Liberation Sans, sans-serif" fill="#1a1a1a"  stroke="#222" stroke-width="0.22">320</text>
<polyline points="401.5,1049.0 404.5,1040.3 409.5,1034.0 412.0,1026.5 415.0,1026.0 417.8,1019.4 420.8,1035.2 423.3,1015.2 426.3,1011.4 429.1,1009.6 432.1,1004.6 434.6,1004.4 437.9,1002.6 440.9,1001.4 444.6,1001.4 448.4,1004.4 450.9,998.9 453.4,992.6 456.4,995.8 458.9,989.4 462.2,987.0 467.2,987.0 470.2,993.8 472.7,984.7 475.2,983.0 478.0,982.7 481.3,968.4 489.3,967.9 492.3,952.5 496.1,951.0 499.8,951.0 503.4,946.2 506.1,944.2 508.5,947.3 511.2,934.3 517.4,934.5 520.2,926.1 523.6,928.9 527.2,917.6 531.4,917.1 534.3,917.6 536.5,907.8 539.1,904.1 541.9,910.6 544.1,920.4 546.9,922.7 551.2,922.7 555.4,924.7 558.2,932.3 562.4,934.5 565.8,935.9 570.9,944.4 575.1,944.4 577.9,948.6 582.2,950.0 586.4,958.5 589.2,962.7 594.8,963.3 599.1,961.3 602.5,965.0 605.3,968.3 611.8,968.9 616.0,972.6 620.2,974.0 623.9,981.0 628.7,981.9 632.0,984.7 634.9,969.8 642.7,968.9 645.6,962.1 651.2,962.7 655.4,962.1 659.7,957.1 663.9,954.8 668.1,951.4 670.4,947.2 673.7,954.3 676.1,950.0" fill="none" stroke="#1a1a1a" stroke-width="1.0" stroke-linejoin="round" />
<polyline points="401.5,1044.0 404.5,1037.8 407.0,1029.0 409.5,1034.7 412.0,1029.0 415.3,1032.7 418.3,1035.2 421.3,1037.3 423.8,1017.7 426.3,1011.4 429.1,998.9 432.1,1001.9 434.6,1001.4 437.9,998.4 440.9,998.9 443.4,1000.1 446.4,999.6 448.9,997.1 451.4,992.1 453.9,991.3 456.4,989.2 459.2,985.6 462.2,987.0 465.2,984.4 467.7,987.0 470.5,981.2 473.0,980.6 475.3,961.7 479.8,959.7 483.5,957.9 491.0,957.4 493.6,955.4 497.3,954.9 500.6,951.6 503.5,944.6 506.1,947.3 508.7,945.3 511.2,931.7 514.0,924.7 516.8,921.9 519.6,904.9 522.4,893.1 525.2,904.9 530.0,904.9 533.4,910.6 535.7,923.8 546.9,923.8 549.8,921.9 552.6,917.1 555.4,920.4 558.2,928.9 562.4,931.7 566.7,932.3 570.9,940.2 575.1,945.8 577.9,950.9 582.2,950.9 586.4,955.7 589.2,959.9 592.0,958.5 595.7,959.9 598.5,958.5 601.9,964.1 604.7,965.5 608.9,968.3 614.6,968.3 617.4,971.7 621.0,968.3 623.9,974.0 626.7,981.0 630.1,968.3 634.3,968.3 637.1,964.1 644.2,964.1 649.8,962.7 655.4,962.1 661.1,959.9 666.7,957.1 672.3,955.7 676.1,949.2" fill="none" stroke="#ee1c24" stroke-width="1.0" stroke-linejoin="round" />
<rect x="570.90" y="861.30" width="105.20" height="41.40" fill="#fff" stroke="#1a1a1a" stroke-width="1.0" />
<line x1="577.20" y1="875.10" x2="598.50" y2="875.10" stroke="#ee1c24" stroke-width="2.0" />
<line x1="577.20" y1="892.10" x2="598.50" y2="892.10" stroke="#000" stroke-width="2.0" />
<text x="600.70" y="878.50" font-size="10" text-anchor="start" font-weight="bold" font-family="Liberation Serif, Noto Serif CJK SC, serif" fill="#111" class="b" textLength="63.5" lengthAdjust="spacingAndGlyphs">Apt-A2-PD-L1</text>
<text x="600.70" y="896.50" font-size="10" text-anchor="start" font-weight="bold" font-family="Liberation Serif, Noto Serif CJK SC, serif" fill="#111" class="b" textLength="31.5" lengthAdjust="spacingAndGlyphs">Apt-A2</text>
<text x="412.40" y="882.60" font-size="20.5" text-anchor="start" font-weight="bold" font-family="Liberation Serif, Noto Serif CJK SC, serif" fill="#000"  >H</text>
<text transform="translate(374.70,994.90) rotate(-90)" font-size="11.2" font-weight="bold" class="b" font-family="Liberation Serif, Noto Serif CJK SC, serif" fill="#111">CD <tspan font-family="Noto Serif CJK SC, serif" font-weight="normal" font-size="9.63" stroke="none" dx="1.57">（</tspan>mdeg<tspan font-family="Noto Serif CJK SC, serif" font-weight="normal" font-size="9.63" stroke="none">）</tspan></text>
<text x="495.60" y="1112.40" font-size="11.85" font-weight="bold" class="b" font-family="Liberation Serif, Noto Serif CJK SC, serif" fill="#111">Wavelength<tspan font-family="Noto Serif CJK SC, serif" font-weight="normal" font-size="10.19" stroke="none" dx="1.66">（</tspan>nm<tspan font-family="Noto Serif CJK SC, serif" font-weight="normal" font-size="10.19" stroke="none">）</tspan></text>
</g>
</svg>
</body></html>
